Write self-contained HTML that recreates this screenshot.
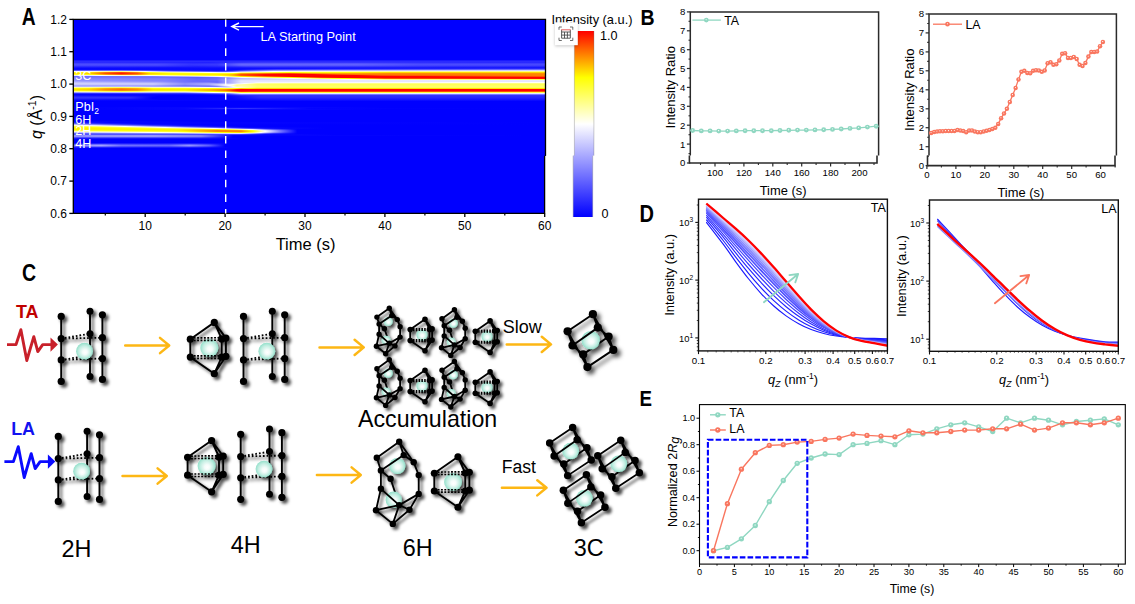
<!DOCTYPE html><html><head><meta charset="utf-8"><title>Figure</title><style>html,body{margin:0;padding:0;background:#fff}svg{display:block}text{font-family:"Liberation Sans",Arial,sans-serif}</style></head><body><svg width="1135" height="604" viewBox="0 0 1135 604"><defs><linearGradient id="h60"><stop offset="0.000" stop-color="#1919ff"/><stop offset="1.000" stop-color="#1919ff"/></linearGradient><linearGradient id="h61"><stop offset="0.000" stop-color="#2a2aff"/><stop offset="1.000" stop-color="#2a2aff"/></linearGradient><linearGradient id="h62"><stop offset="0.000" stop-color="#2b2bff"/><stop offset="0.195" stop-color="#2626ff"/><stop offset="0.288" stop-color="#2020ff"/><stop offset="0.339" stop-color="#3030ff"/><stop offset="0.381" stop-color="#3838ff"/><stop offset="0.627" stop-color="#3232ff"/><stop offset="0.864" stop-color="#2929ff"/><stop offset="1.000" stop-color="#2828ff"/></linearGradient><linearGradient id="h63"><stop offset="0.000" stop-color="#4141ff"/><stop offset="0.186" stop-color="#3b3bff"/><stop offset="0.254" stop-color="#2c2cff"/><stop offset="0.305" stop-color="#2f2fff"/><stop offset="0.356" stop-color="#5656ff"/><stop offset="0.602" stop-color="#5252ff"/><stop offset="0.737" stop-color="#4040ff"/><stop offset="1.000" stop-color="#3c3cff"/></linearGradient><linearGradient id="h64"><stop offset="0.000" stop-color="#4c4cff"/><stop offset="0.178" stop-color="#4949ff"/><stop offset="0.246" stop-color="#3434ff"/><stop offset="0.305" stop-color="#3838ff"/><stop offset="0.356" stop-color="#6666ff"/><stop offset="0.602" stop-color="#6060ff"/><stop offset="0.729" stop-color="#4c4cff"/><stop offset="1.000" stop-color="#4747ff"/></linearGradient><linearGradient id="h65"><stop offset="0.000" stop-color="#4444ff"/><stop offset="0.178" stop-color="#4242ff"/><stop offset="0.246" stop-color="#2e2eff"/><stop offset="0.305" stop-color="#3232ff"/><stop offset="0.356" stop-color="#5b5bff"/><stop offset="0.602" stop-color="#5656ff"/><stop offset="0.729" stop-color="#4444ff"/><stop offset="1.000" stop-color="#4040ff"/></linearGradient><linearGradient id="h66"><stop offset="0.000" stop-color="#2e2eff"/><stop offset="0.186" stop-color="#2b2bff"/><stop offset="0.263" stop-color="#2020ff"/><stop offset="0.314" stop-color="#2727ff"/><stop offset="0.364" stop-color="#3e3eff"/><stop offset="0.619" stop-color="#3838ff"/><stop offset="0.780" stop-color="#2e2eff"/><stop offset="1.000" stop-color="#2b2bff"/></linearGradient><linearGradient id="h67"><stop offset="0.000" stop-color="#1818ff"/><stop offset="0.220" stop-color="#1212ff"/><stop offset="0.322" stop-color="#1616ff"/><stop offset="0.390" stop-color="#2020ff"/><stop offset="1.000" stop-color="#1717ff"/></linearGradient><linearGradient id="h68"><stop offset="0.000" stop-color="#0909ff"/><stop offset="0.347" stop-color="#0c0cff"/><stop offset="1.000" stop-color="#2727ff"/></linearGradient><linearGradient id="h69"><stop offset="0.000" stop-color="#0b0bff"/><stop offset="0.347" stop-color="#0909ff"/><stop offset="0.432" stop-color="#3d3dff"/><stop offset="0.864" stop-color="#6363ff"/><stop offset="1.000" stop-color="#6b6bff"/></linearGradient><linearGradient id="h70"><stop offset="0.000" stop-color="#5757ff"/><stop offset="0.059" stop-color="#6363ff"/><stop offset="0.102" stop-color="#6d6dff"/><stop offset="0.212" stop-color="#1e1eff"/><stop offset="0.305" stop-color="#0b0bff"/><stop offset="0.331" stop-color="#1212ff"/><stop offset="0.364" stop-color="#4747ff"/><stop offset="0.424" stop-color="#9191ff"/><stop offset="0.492" stop-color="#a4a4ff"/><stop offset="0.746" stop-color="#c4c4ff"/><stop offset="1.000" stop-color="#d4d4ff"/></linearGradient><linearGradient id="h71"><stop offset="0.000" stop-color="#fffff7"/><stop offset="0.034" stop-color="#ffffe9"/><stop offset="0.068" stop-color="#ffff9a"/><stop offset="0.102" stop-color="#ffff72"/><stop offset="0.136" stop-color="#ffffc4"/><stop offset="0.144" stop-color="#ffffea"/><stop offset="0.153" stop-color="#f7f7ff"/><stop offset="0.203" stop-color="#a3a3ff"/><stop offset="0.305" stop-color="#4949ff"/><stop offset="0.322" stop-color="#4b4bff"/><stop offset="0.339" stop-color="#6767ff"/><stop offset="0.356" stop-color="#a4a4ff"/><stop offset="0.424" stop-color="#fdfdff"/><stop offset="0.458" stop-color="#ffffd8"/><stop offset="0.678" stop-color="#ffff90"/><stop offset="1.000" stop-color="#ffff78"/></linearGradient><linearGradient id="h72"><stop offset="0.000" stop-color="#ffff05"/><stop offset="0.034" stop-color="#fff000"/><stop offset="0.068" stop-color="#ff7b00"/><stop offset="0.102" stop-color="#ff4100"/><stop offset="0.136" stop-color="#ff8a00"/><stop offset="0.153" stop-color="#ffe200"/><stop offset="0.161" stop-color="#ffff0e"/><stop offset="0.203" stop-color="#ffff70"/><stop offset="0.271" stop-color="#ffffde"/><stop offset="0.288" stop-color="#fffffe"/><stop offset="0.314" stop-color="#ececff"/><stop offset="0.331" stop-color="#eeeeff"/><stop offset="0.339" stop-color="#f9f9ff"/><stop offset="0.347" stop-color="#ffffdb"/><stop offset="0.356" stop-color="#ffff98"/><stop offset="0.424" stop-color="#ffff2b"/><stop offset="0.458" stop-color="#ffff02"/><stop offset="0.500" stop-color="#ffff14"/><stop offset="0.585" stop-color="#fffa00"/><stop offset="0.669" stop-color="#ffdc00"/><stop offset="1.000" stop-color="#ffd800"/></linearGradient><linearGradient id="h73"><stop offset="0.000" stop-color="#ffe000"/><stop offset="0.034" stop-color="#ffcc00"/><stop offset="0.068" stop-color="#ff5100"/><stop offset="0.102" stop-color="#ff1400"/><stop offset="0.136" stop-color="#ff5100"/><stop offset="0.161" stop-color="#ffcc00"/><stop offset="0.203" stop-color="#fff800"/><stop offset="0.271" stop-color="#ffff07"/><stop offset="0.314" stop-color="#ffff1b"/><stop offset="0.331" stop-color="#ffff14"/><stop offset="0.339" stop-color="#ffff03"/><stop offset="0.347" stop-color="#ffdb00"/><stop offset="0.356" stop-color="#ffa300"/><stop offset="0.424" stop-color="#ff6100"/><stop offset="0.458" stop-color="#ff4400"/><stop offset="0.508" stop-color="#ff9100"/><stop offset="0.542" stop-color="#ffa500"/><stop offset="0.610" stop-color="#ff9c00"/><stop offset="0.669" stop-color="#ff8900"/><stop offset="1.000" stop-color="#ff9100"/></linearGradient><linearGradient id="h74"><stop offset="0.000" stop-color="#ffff20"/><stop offset="0.034" stop-color="#ffff0d"/><stop offset="0.042" stop-color="#fff000"/><stop offset="0.068" stop-color="#ff9c00"/><stop offset="0.102" stop-color="#ff6300"/><stop offset="0.136" stop-color="#ff8a00"/><stop offset="0.161" stop-color="#ffef00"/><stop offset="0.203" stop-color="#fffe00"/><stop offset="0.305" stop-color="#ffea00"/><stop offset="0.331" stop-color="#ffcb00"/><stop offset="0.339" stop-color="#ffb200"/><stop offset="0.347" stop-color="#ff8900"/><stop offset="0.356" stop-color="#ff5100"/><stop offset="0.407" stop-color="#ff0600"/><stop offset="0.441" stop-color="#ff0000"/><stop offset="0.508" stop-color="#ff0200"/><stop offset="0.559" stop-color="#ff5000"/><stop offset="0.602" stop-color="#ff7500"/><stop offset="0.653" stop-color="#ff7900"/><stop offset="1.000" stop-color="#ff8400"/></linearGradient><linearGradient id="h75"><stop offset="0.000" stop-color="#e3e3ff"/><stop offset="0.034" stop-color="#e8e8ff"/><stop offset="0.059" stop-color="#fffffb"/><stop offset="0.076" stop-color="#ffffe2"/><stop offset="0.110" stop-color="#ffffc6"/><stop offset="0.136" stop-color="#ffffc0"/><stop offset="0.161" stop-color="#ffffe5"/><stop offset="0.263" stop-color="#ffff48"/><stop offset="0.305" stop-color="#ffff1a"/><stop offset="0.314" stop-color="#ffff06"/><stop offset="0.331" stop-color="#ffdd00"/><stop offset="0.339" stop-color="#ffbe00"/><stop offset="0.347" stop-color="#ff9400"/><stop offset="0.356" stop-color="#ff5c00"/><stop offset="0.407" stop-color="#ff0500"/><stop offset="0.602" stop-color="#ff0400"/><stop offset="0.653" stop-color="#ff4e00"/><stop offset="0.695" stop-color="#ff5c00"/><stop offset="1.000" stop-color="#ff8300"/></linearGradient><linearGradient id="h76"><stop offset="0.000" stop-color="#6c6cff"/><stop offset="0.169" stop-color="#7a7aff"/><stop offset="0.246" stop-color="#b2b2ff"/><stop offset="0.305" stop-color="#f1f1ff"/><stop offset="0.314" stop-color="#ffffe9"/><stop offset="0.347" stop-color="#ffff2a"/><stop offset="0.356" stop-color="#ffed00"/><stop offset="0.424" stop-color="#ff5200"/><stop offset="0.466" stop-color="#ff0000"/><stop offset="0.746" stop-color="#ff0400"/><stop offset="1.000" stop-color="#ff5900"/></linearGradient><linearGradient id="h77"><stop offset="0.000" stop-color="#7777ff"/><stop offset="0.195" stop-color="#6f6fff"/><stop offset="0.263" stop-color="#5d5dff"/><stop offset="0.305" stop-color="#6d6dff"/><stop offset="0.331" stop-color="#acacff"/><stop offset="0.356" stop-color="#f8f8ff"/><stop offset="0.364" stop-color="#fffff4"/><stop offset="0.424" stop-color="#ffff4b"/><stop offset="0.458" stop-color="#ffff0a"/><stop offset="0.466" stop-color="#fff000"/><stop offset="0.525" stop-color="#ff3900"/><stop offset="0.568" stop-color="#ff0000"/><stop offset="1.000" stop-color="#ff0000"/></linearGradient><linearGradient id="h78"><stop offset="0.000" stop-color="#8484ff"/><stop offset="0.195" stop-color="#7b7bff"/><stop offset="0.263" stop-color="#6363ff"/><stop offset="0.305" stop-color="#6b6bff"/><stop offset="0.356" stop-color="#b8b8ff"/><stop offset="0.415" stop-color="#dcdcff"/><stop offset="0.466" stop-color="#fefeff"/><stop offset="0.492" stop-color="#ffffc5"/><stop offset="0.525" stop-color="#ffff59"/><stop offset="0.576" stop-color="#ffff00"/><stop offset="0.661" stop-color="#ff5500"/><stop offset="1.000" stop-color="#ff0700"/></linearGradient><linearGradient id="h79"><stop offset="0.000" stop-color="#8c8cff"/><stop offset="0.195" stop-color="#8181ff"/><stop offset="0.263" stop-color="#6868ff"/><stop offset="0.305" stop-color="#7070ff"/><stop offset="0.347" stop-color="#c1c1ff"/><stop offset="0.356" stop-color="#cdcdff"/><stop offset="0.500" stop-color="#dadaff"/><stop offset="0.585" stop-color="#fffffb"/><stop offset="0.644" stop-color="#ffffae"/><stop offset="0.661" stop-color="#ffff92"/><stop offset="1.000" stop-color="#ffff55"/></linearGradient><linearGradient id="h80"><stop offset="0.000" stop-color="#9494ff"/><stop offset="0.195" stop-color="#8282ff"/><stop offset="0.263" stop-color="#6868ff"/><stop offset="0.305" stop-color="#6f6fff"/><stop offset="0.356" stop-color="#dfdfff"/><stop offset="0.653" stop-color="#e7e7ff"/><stop offset="1.000" stop-color="#e9e9ff"/></linearGradient><linearGradient id="h81"><stop offset="0.000" stop-color="#a7a7ff"/><stop offset="0.186" stop-color="#8d8dff"/><stop offset="0.254" stop-color="#6b6bff"/><stop offset="0.305" stop-color="#6868ff"/><stop offset="0.356" stop-color="#e6e6ff"/><stop offset="1.000" stop-color="#e6e6ff"/></linearGradient><linearGradient id="h82"><stop offset="0.000" stop-color="#c1c1ff"/><stop offset="0.178" stop-color="#aaaaff"/><stop offset="0.237" stop-color="#7c7cff"/><stop offset="0.288" stop-color="#8181ff"/><stop offset="0.305" stop-color="#6e6eff"/><stop offset="0.356" stop-color="#e3e3ff"/><stop offset="0.381" stop-color="#e8e8ff"/><stop offset="0.390" stop-color="#f4f4ff"/><stop offset="0.932" stop-color="#fffff8"/><stop offset="1.000" stop-color="#fffff5"/></linearGradient><linearGradient id="h83"><stop offset="0.000" stop-color="#d1d1ff"/><stop offset="0.169" stop-color="#c8c8ff"/><stop offset="0.237" stop-color="#8c8cff"/><stop offset="0.297" stop-color="#a8a8ff"/><stop offset="0.305" stop-color="#a4a4ff"/><stop offset="0.339" stop-color="#cacaff"/><stop offset="0.347" stop-color="#e4e4ff"/><stop offset="0.364" stop-color="#fcfcff"/><stop offset="0.381" stop-color="#ffffbe"/><stop offset="0.390" stop-color="#ffff9b"/><stop offset="0.466" stop-color="#ffff8a"/><stop offset="1.000" stop-color="#ffff7e"/></linearGradient><linearGradient id="h84"><stop offset="0.000" stop-color="#c8c8ff"/><stop offset="0.169" stop-color="#c6c6ff"/><stop offset="0.237" stop-color="#8b8bff"/><stop offset="0.288" stop-color="#a9a9ff"/><stop offset="0.322" stop-color="#ededff"/><stop offset="0.331" stop-color="#efefff"/><stop offset="0.339" stop-color="#fffffe"/><stop offset="0.347" stop-color="#ffffb3"/><stop offset="0.356" stop-color="#ffffb2"/><stop offset="0.364" stop-color="#ffff9b"/><stop offset="0.381" stop-color="#ffff7c"/><stop offset="0.390" stop-color="#ffff68"/><stop offset="0.458" stop-color="#ffff55"/><stop offset="1.000" stop-color="#ffff58"/></linearGradient><linearGradient id="h85"><stop offset="0.000" stop-color="#a8a8ff"/><stop offset="0.169" stop-color="#a6a6ff"/><stop offset="0.237" stop-color="#7676ff"/><stop offset="0.288" stop-color="#8787ff"/><stop offset="0.305" stop-color="#b5b5ff"/><stop offset="0.322" stop-color="#f2f2ff"/><stop offset="0.331" stop-color="#fefeff"/><stop offset="0.339" stop-color="#ffffd1"/><stop offset="0.347" stop-color="#ffff8f"/><stop offset="0.356" stop-color="#ffffa6"/><stop offset="0.373" stop-color="#ffff94"/><stop offset="0.390" stop-color="#ffff70"/><stop offset="0.458" stop-color="#ffff5d"/><stop offset="1.000" stop-color="#ffff63"/></linearGradient><linearGradient id="h86"><stop offset="0.000" stop-color="#b3b3ff"/><stop offset="0.119" stop-color="#bbbbff"/><stop offset="0.254" stop-color="#8d8dff"/><stop offset="0.288" stop-color="#7777ff"/><stop offset="0.305" stop-color="#7f7fff"/><stop offset="0.331" stop-color="#dedeff"/><stop offset="0.339" stop-color="#fffff8"/><stop offset="0.347" stop-color="#ffffb0"/><stop offset="0.356" stop-color="#ffffbc"/><stop offset="0.364" stop-color="#ffffa7"/><stop offset="0.381" stop-color="#ffff8b"/><stop offset="0.390" stop-color="#ffff76"/><stop offset="0.458" stop-color="#ffff63"/><stop offset="1.000" stop-color="#ffff6a"/></linearGradient><linearGradient id="h87"><stop offset="0.000" stop-color="#ffff9c"/><stop offset="0.034" stop-color="#ffff90"/><stop offset="0.076" stop-color="#ffff62"/><stop offset="0.102" stop-color="#ffff54"/><stop offset="0.136" stop-color="#ffff6e"/><stop offset="0.169" stop-color="#ffffae"/><stop offset="0.237" stop-color="#ffffbf"/><stop offset="0.288" stop-color="#fefeff"/><stop offset="0.305" stop-color="#f4f4ff"/><stop offset="0.322" stop-color="#dfdfff"/><stop offset="0.331" stop-color="#e3e3ff"/><stop offset="0.339" stop-color="#f2f2ff"/><stop offset="0.347" stop-color="#ffffe7"/><stop offset="0.390" stop-color="#ffff65"/><stop offset="0.466" stop-color="#ffff57"/><stop offset="1.000" stop-color="#ffff5c"/></linearGradient><linearGradient id="h88"><stop offset="0.000" stop-color="#fffb00"/><stop offset="0.034" stop-color="#ffe800"/><stop offset="0.068" stop-color="#ffae00"/><stop offset="0.102" stop-color="#ff9200"/><stop offset="0.136" stop-color="#ffb100"/><stop offset="0.169" stop-color="#ffff02"/><stop offset="0.246" stop-color="#ffff0c"/><stop offset="0.305" stop-color="#ffff04"/><stop offset="0.322" stop-color="#ffff23"/><stop offset="0.339" stop-color="#ffff1c"/><stop offset="0.347" stop-color="#fff700"/><stop offset="0.356" stop-color="#ffd400"/><stop offset="0.373" stop-color="#ffea00"/><stop offset="0.390" stop-color="#ffd700"/><stop offset="1.000" stop-color="#ffe800"/></linearGradient><linearGradient id="h89"><stop offset="0.000" stop-color="#ffe000"/><stop offset="0.034" stop-color="#ffcc00"/><stop offset="0.068" stop-color="#ff8f00"/><stop offset="0.102" stop-color="#ff7000"/><stop offset="0.136" stop-color="#ff8f00"/><stop offset="0.169" stop-color="#ffe000"/><stop offset="0.237" stop-color="#ffeb00"/><stop offset="0.288" stop-color="#ffba00"/><stop offset="0.322" stop-color="#ff8900"/><stop offset="0.339" stop-color="#ff4a00"/><stop offset="0.347" stop-color="#ff1600"/><stop offset="0.356" stop-color="#ff0000"/><stop offset="1.000" stop-color="#ff0400"/></linearGradient><linearGradient id="h90"><stop offset="0.000" stop-color="#fffb00"/><stop offset="0.034" stop-color="#ffe600"/><stop offset="0.068" stop-color="#ffaa00"/><stop offset="0.102" stop-color="#ff8b00"/><stop offset="0.136" stop-color="#ffa700"/><stop offset="0.169" stop-color="#fff600"/><stop offset="0.237" stop-color="#fffe00"/><stop offset="0.297" stop-color="#ffac00"/><stop offset="0.322" stop-color="#ff7b00"/><stop offset="0.331" stop-color="#ff5500"/><stop offset="0.339" stop-color="#ff2500"/><stop offset="0.347" stop-color="#ff0000"/><stop offset="1.000" stop-color="#ff0000"/></linearGradient><linearGradient id="h91"><stop offset="0.000" stop-color="#ffff9f"/><stop offset="0.034" stop-color="#ffff8c"/><stop offset="0.076" stop-color="#ffff52"/><stop offset="0.102" stop-color="#ffff3d"/><stop offset="0.136" stop-color="#ffff51"/><stop offset="0.169" stop-color="#ffff8e"/><stop offset="0.237" stop-color="#ffff8f"/><stop offset="0.297" stop-color="#ffff04"/><stop offset="0.322" stop-color="#ffd400"/><stop offset="0.331" stop-color="#ffb200"/><stop offset="0.356" stop-color="#ff2400"/><stop offset="0.373" stop-color="#ff3500"/><stop offset="1.000" stop-color="#ff5100"/></linearGradient><linearGradient id="h92"><stop offset="0.000" stop-color="#9f9fff"/><stop offset="0.110" stop-color="#bbbbff"/><stop offset="0.186" stop-color="#aaaaff"/><stop offset="0.237" stop-color="#ababff"/><stop offset="0.297" stop-color="#fcfcff"/><stop offset="0.305" stop-color="#ffffea"/><stop offset="0.322" stop-color="#ffffdc"/><stop offset="0.331" stop-color="#ffffc0"/><stop offset="0.347" stop-color="#ffff5f"/><stop offset="0.356" stop-color="#ffff1f"/><stop offset="0.373" stop-color="#ffff2f"/><stop offset="1.000" stop-color="#ffff44"/></linearGradient><linearGradient id="h93"><stop offset="0.000" stop-color="#2d2dff"/><stop offset="0.144" stop-color="#3636ff"/><stop offset="0.237" stop-color="#3434ff"/><stop offset="0.322" stop-color="#7777ff"/><stop offset="0.331" stop-color="#8888ff"/><stop offset="0.356" stop-color="#eaeaff"/><stop offset="1.000" stop-color="#e8e8ff"/></linearGradient><linearGradient id="h94"><stop offset="0.000" stop-color="#0606ff"/><stop offset="0.271" stop-color="#0d0dff"/><stop offset="0.322" stop-color="#2020ff"/><stop offset="0.356" stop-color="#7575ff"/><stop offset="1.000" stop-color="#7878ff"/></linearGradient><linearGradient id="h95"><stop offset="0.000" stop-color="#1111ff"/><stop offset="0.136" stop-color="#0a0aff"/><stop offset="0.203" stop-color="#0000ff"/><stop offset="0.314" stop-color="#0202ff"/><stop offset="0.356" stop-color="#2929ff"/><stop offset="0.415" stop-color="#3333ff"/><stop offset="1.000" stop-color="#3131ff"/></linearGradient><linearGradient id="h96"><stop offset="0.000" stop-color="#2525ff"/><stop offset="0.127" stop-color="#1c1cff"/><stop offset="0.178" stop-color="#0000ff"/><stop offset="0.322" stop-color="#0202ff"/><stop offset="0.398" stop-color="#2e2eff"/><stop offset="1.000" stop-color="#2929ff"/></linearGradient><linearGradient id="h97"><stop offset="0.000" stop-color="#3333ff"/><stop offset="0.119" stop-color="#2e2eff"/><stop offset="0.169" stop-color="#0000ff"/><stop offset="0.331" stop-color="#0505ff"/><stop offset="0.398" stop-color="#2a2aff"/><stop offset="1.000" stop-color="#2525ff"/></linearGradient><linearGradient id="h98"><stop offset="0.000" stop-color="#2929ff"/><stop offset="0.119" stop-color="#2525ff"/><stop offset="0.169" stop-color="#0000ff"/><stop offset="0.331" stop-color="#0404ff"/><stop offset="0.398" stop-color="#2020ff"/><stop offset="1.000" stop-color="#1d1dff"/></linearGradient><linearGradient id="h99"><stop offset="0.000" stop-color="#1414ff"/><stop offset="0.127" stop-color="#0f0fff"/><stop offset="0.186" stop-color="#0000ff"/><stop offset="0.339" stop-color="#0505ff"/><stop offset="0.407" stop-color="#1515ff"/><stop offset="1.000" stop-color="#1313ff"/></linearGradient><linearGradient id="h100"><stop offset="0.000" stop-color="#0606ff"/><stop offset="0.339" stop-color="#0303ff"/><stop offset="0.458" stop-color="#0b0bff"/><stop offset="1.000" stop-color="#0a0aff"/></linearGradient><linearGradient id="h107"><stop offset="0.000" stop-color="#0000ff"/><stop offset="0.297" stop-color="#0808ff"/><stop offset="0.407" stop-color="#0909ff"/><stop offset="0.661" stop-color="#0000ff"/><stop offset="1.000" stop-color="#0000ff"/></linearGradient><linearGradient id="h108"><stop offset="0.000" stop-color="#0000ff"/><stop offset="0.237" stop-color="#0707ff"/><stop offset="0.356" stop-color="#3333ff"/><stop offset="0.424" stop-color="#1b1bff"/><stop offset="0.500" stop-color="#0303ff"/><stop offset="1.000" stop-color="#0000ff"/></linearGradient><linearGradient id="h109"><stop offset="0.000" stop-color="#0000ff"/><stop offset="0.297" stop-color="#0808ff"/><stop offset="0.407" stop-color="#0909ff"/><stop offset="0.661" stop-color="#0000ff"/><stop offset="1.000" stop-color="#0000ff"/></linearGradient><linearGradient id="h121"><stop offset="0.000" stop-color="#0707ff"/><stop offset="0.314" stop-color="#0000ff"/><stop offset="1.000" stop-color="#0000ff"/></linearGradient><linearGradient id="h122"><stop offset="0.000" stop-color="#2020ff"/><stop offset="0.076" stop-color="#0505ff"/><stop offset="1.000" stop-color="#0000ff"/></linearGradient><linearGradient id="h123"><stop offset="0.000" stop-color="#5b5bff"/><stop offset="0.068" stop-color="#1f1fff"/><stop offset="0.144" stop-color="#0404ff"/><stop offset="1.000" stop-color="#0000ff"/></linearGradient><linearGradient id="h124"><stop offset="0.000" stop-color="#babaff"/><stop offset="0.102" stop-color="#3c3cff"/><stop offset="0.161" stop-color="#1111ff"/><stop offset="0.246" stop-color="#0101ff"/><stop offset="1.000" stop-color="#0000ff"/></linearGradient><linearGradient id="h125"><stop offset="0.000" stop-color="#ffffc0"/><stop offset="0.025" stop-color="#fffff9"/><stop offset="0.059" stop-color="#d7d7ff"/><stop offset="0.169" stop-color="#3f3fff"/><stop offset="0.229" stop-color="#0f0fff"/><stop offset="0.314" stop-color="#0000ff"/><stop offset="1.000" stop-color="#0000ff"/></linearGradient><linearGradient id="h126"><stop offset="0.000" stop-color="#ffff32"/><stop offset="0.051" stop-color="#ffff78"/><stop offset="0.093" stop-color="#ffffce"/><stop offset="0.110" stop-color="#fffff9"/><stop offset="0.144" stop-color="#d2d2ff"/><stop offset="0.237" stop-color="#4444ff"/><stop offset="0.288" stop-color="#1515ff"/><stop offset="0.356" stop-color="#0000ff"/><stop offset="1.000" stop-color="#0000ff"/></linearGradient><linearGradient id="h127"><stop offset="0.000" stop-color="#fff400"/><stop offset="0.042" stop-color="#ffff06"/><stop offset="0.102" stop-color="#ffff3a"/><stop offset="0.144" stop-color="#ffff7c"/><stop offset="0.186" stop-color="#ffffe0"/><stop offset="0.195" stop-color="#fffff8"/><stop offset="0.220" stop-color="#dadaff"/><stop offset="0.339" stop-color="#1f1fff"/><stop offset="0.373" stop-color="#0707ff"/><stop offset="0.534" stop-color="#0000ff"/><stop offset="1.000" stop-color="#0000ff"/></linearGradient><linearGradient id="h128"><stop offset="0.000" stop-color="#ffeb00"/><stop offset="0.119" stop-color="#fffc00"/><stop offset="0.161" stop-color="#ffff14"/><stop offset="0.203" stop-color="#ffff43"/><stop offset="0.229" stop-color="#ffff67"/><stop offset="0.263" stop-color="#ffff9a"/><stop offset="0.288" stop-color="#ffffda"/><stop offset="0.297" stop-color="#fffff5"/><stop offset="0.305" stop-color="#f5f5ff"/><stop offset="0.339" stop-color="#9f9fff"/><stop offset="0.364" stop-color="#6060ff"/><stop offset="0.407" stop-color="#1b1bff"/><stop offset="0.441" stop-color="#0808ff"/><stop offset="0.534" stop-color="#0000ff"/><stop offset="1.000" stop-color="#0000ff"/></linearGradient><linearGradient id="h129"><stop offset="0.000" stop-color="#fff400"/><stop offset="0.178" stop-color="#fff400"/><stop offset="0.220" stop-color="#fffd00"/><stop offset="0.271" stop-color="#ffdf00"/><stop offset="0.305" stop-color="#ffe700"/><stop offset="0.314" stop-color="#fffa00"/><stop offset="0.322" stop-color="#ffff10"/><stop offset="0.347" stop-color="#ffff6d"/><stop offset="0.373" stop-color="#ffffee"/><stop offset="0.381" stop-color="#f1f1ff"/><stop offset="0.407" stop-color="#8d8dff"/><stop offset="0.424" stop-color="#5a5aff"/><stop offset="0.466" stop-color="#0e0eff"/><stop offset="0.475" stop-color="#0000ff"/><stop offset="1.000" stop-color="#0000ff"/></linearGradient><linearGradient id="h130"><stop offset="0.000" stop-color="#ffff32"/><stop offset="0.127" stop-color="#ffff00"/><stop offset="0.220" stop-color="#fff500"/><stop offset="0.305" stop-color="#ff8700"/><stop offset="0.347" stop-color="#ff9900"/><stop offset="0.356" stop-color="#ffa100"/><stop offset="0.373" stop-color="#fff400"/><stop offset="0.381" stop-color="#ffff1e"/><stop offset="0.398" stop-color="#ffffc6"/><stop offset="0.407" stop-color="#f2f2ff"/><stop offset="0.441" stop-color="#6969ff"/><stop offset="0.475" stop-color="#0000ff"/><stop offset="1.000" stop-color="#0000ff"/></linearGradient><linearGradient id="h131"><stop offset="0.000" stop-color="#ffffc0"/><stop offset="0.203" stop-color="#ffff2a"/><stop offset="0.220" stop-color="#ffff21"/><stop offset="0.237" stop-color="#ffff04"/><stop offset="0.305" stop-color="#ff8d00"/><stop offset="0.356" stop-color="#ff8500"/><stop offset="0.381" stop-color="#ffff00"/><stop offset="0.407" stop-color="#ffffff"/><stop offset="0.441" stop-color="#7070ff"/><stop offset="0.475" stop-color="#0000ff"/><stop offset="1.000" stop-color="#0000ff"/></linearGradient><linearGradient id="h132"><stop offset="0.000" stop-color="#babaff"/><stop offset="0.169" stop-color="#fefeff"/><stop offset="0.220" stop-color="#ffffce"/><stop offset="0.280" stop-color="#ffff51"/><stop offset="0.305" stop-color="#ffff14"/><stop offset="0.322" stop-color="#ffff00"/><stop offset="0.356" stop-color="#ffdf00"/><stop offset="0.364" stop-color="#ffff0c"/><stop offset="0.381" stop-color="#ffff62"/><stop offset="0.398" stop-color="#fdfdff"/><stop offset="0.424" stop-color="#9595ff"/><stop offset="0.449" stop-color="#4444ff"/><stop offset="0.475" stop-color="#0000ff"/><stop offset="1.000" stop-color="#0000ff"/></linearGradient><linearGradient id="h133"><stop offset="0.000" stop-color="#5c5cff"/><stop offset="0.212" stop-color="#8f8fff"/><stop offset="0.297" stop-color="#c9c9ff"/><stop offset="0.339" stop-color="#dfdfff"/><stop offset="0.356" stop-color="#e4e4ff"/><stop offset="0.381" stop-color="#a5a5ff"/><stop offset="0.407" stop-color="#5656ff"/><stop offset="0.424" stop-color="#3232ff"/><stop offset="0.475" stop-color="#0000ff"/><stop offset="1.000" stop-color="#0000ff"/></linearGradient><linearGradient id="h134"><stop offset="0.000" stop-color="#5050ff"/><stop offset="0.195" stop-color="#5252ff"/><stop offset="0.280" stop-color="#4848ff"/><stop offset="0.356" stop-color="#3939ff"/><stop offset="0.407" stop-color="#0909ff"/><stop offset="0.551" stop-color="#0000ff"/><stop offset="1.000" stop-color="#0000ff"/></linearGradient><linearGradient id="h135"><stop offset="0.000" stop-color="#8e8eff"/><stop offset="0.169" stop-color="#9494ff"/><stop offset="0.271" stop-color="#7b7bff"/><stop offset="0.339" stop-color="#0505ff"/><stop offset="1.000" stop-color="#0000ff"/></linearGradient><linearGradient id="h136"><stop offset="0.000" stop-color="#8e8eff"/><stop offset="0.169" stop-color="#9494ff"/><stop offset="0.271" stop-color="#7b7bff"/><stop offset="0.339" stop-color="#0000ff"/><stop offset="1.000" stop-color="#0000ff"/></linearGradient><linearGradient id="h137"><stop offset="0.000" stop-color="#4f4fff"/><stop offset="0.186" stop-color="#4f4fff"/><stop offset="0.271" stop-color="#4444ff"/><stop offset="0.339" stop-color="#0000ff"/><stop offset="1.000" stop-color="#0000ff"/></linearGradient><linearGradient id="h138"><stop offset="0.000" stop-color="#1818ff"/><stop offset="0.280" stop-color="#1212ff"/><stop offset="0.356" stop-color="#0000ff"/><stop offset="1.000" stop-color="#0000ff"/></linearGradient><linearGradient id="h143"><stop offset="0.000" stop-color="#1919ff"/><stop offset="0.068" stop-color="#2222ff"/><stop offset="0.153" stop-color="#1818ff"/><stop offset="0.229" stop-color="#1d1dff"/><stop offset="0.263" stop-color="#1c1cff"/><stop offset="0.331" stop-color="#0000ff"/><stop offset="1.000" stop-color="#0000ff"/></linearGradient><linearGradient id="h144"><stop offset="0.000" stop-color="#4d4dff"/><stop offset="0.042" stop-color="#6b6bff"/><stop offset="0.059" stop-color="#7070ff"/><stop offset="0.102" stop-color="#4d4dff"/><stop offset="0.203" stop-color="#4646ff"/><stop offset="0.246" stop-color="#6565ff"/><stop offset="0.288" stop-color="#3f3fff"/><stop offset="0.322" stop-color="#0000ff"/><stop offset="1.000" stop-color="#0000ff"/></linearGradient><linearGradient id="h145"><stop offset="0.000" stop-color="#7070ff"/><stop offset="0.034" stop-color="#9999ff"/><stop offset="0.059" stop-color="#a3a3ff"/><stop offset="0.102" stop-color="#7070ff"/><stop offset="0.203" stop-color="#6666ff"/><stop offset="0.246" stop-color="#9494ff"/><stop offset="0.288" stop-color="#5c5cff"/><stop offset="0.322" stop-color="#0000ff"/><stop offset="1.000" stop-color="#0000ff"/></linearGradient><linearGradient id="h146"><stop offset="0.000" stop-color="#4d4dff"/><stop offset="0.042" stop-color="#6b6bff"/><stop offset="0.059" stop-color="#7070ff"/><stop offset="0.102" stop-color="#4d4dff"/><stop offset="0.203" stop-color="#4646ff"/><stop offset="0.246" stop-color="#6565ff"/><stop offset="0.288" stop-color="#3f3fff"/><stop offset="0.322" stop-color="#0000ff"/><stop offset="1.000" stop-color="#0000ff"/></linearGradient><linearGradient id="h147"><stop offset="0.000" stop-color="#1919ff"/><stop offset="0.068" stop-color="#2222ff"/><stop offset="0.153" stop-color="#1818ff"/><stop offset="0.229" stop-color="#1d1dff"/><stop offset="0.263" stop-color="#1c1cff"/><stop offset="0.331" stop-color="#0000ff"/><stop offset="1.000" stop-color="#0000ff"/></linearGradient><linearGradient id="cb" x1="0" x2="0" y1="0" y2="1"><stop offset="0" stop-color="#ff0000"/><stop offset="0.25" stop-color="#ffff00"/><stop offset="0.5" stop-color="#ffffff"/><stop offset="1" stop-color="#0000ff"/></linearGradient><clipPath id="cbc"><path d="M574.4 31H594V155.6H592.7V217H573.2V155.6H574.4Z"/></clipPath><filter id="sh" x="-30%" y="-30%" width="160%" height="160%"><feGaussianBlur stdDeviation="1.5"/></filter><radialGradient id="mkm" cx="0.5" cy="0.5" r="0.5" fx="0.45" fy="0.38"><stop offset="0" stop-color="#fff"/><stop offset="0.16" stop-color="#c9ece1"/><stop offset="0.42" stop-color="#8fd7c1"/><stop offset="1" stop-color="#8fd7c1"/></radialGradient><radialGradient id="mks" cx="0.5" cy="0.5" r="0.5" fx="0.45" fy="0.38"><stop offset="0" stop-color="#fff"/><stop offset="0.16" stop-color="#fdbdb2"/><stop offset="0.42" stop-color="#f9765f"/><stop offset="1" stop-color="#f9765f"/></radialGradient><clipPath id="dl"><rect x="698.5" y="199.2" width="189.49999999999997" height="151.7"/></clipPath><clipPath id="dr"><rect x="929.5" y="200.0" width="189.39999999999995" height="151.3"/></clipPath><filter id="ds" x="-30%" y="-30%" width="170%" height="170%"><feDropShadow dx="2.7" dy="2.7" stdDeviation="1.7" flood-color="#000" flood-opacity="0.7"/></filter><filter id="ds2" x="-30%" y="-30%" width="170%" height="170%"><feDropShadow dx="3.3" dy="3.3" stdDeviation="2" flood-color="#000" flood-opacity="0.7"/></filter><radialGradient id="sp" cx="0.5" cy="0.5" r="0.5" fx="0.54" fy="0.58"><stop offset="0" stop-color="#ffffff"/><stop offset="0.28" stop-color="#f4fcfa"/><stop offset="0.7" stop-color="#c3eee2"/><stop offset="1" stop-color="#93dfca"/></radialGradient><g id="u2h"><path d="M28.8 -5.2L28.8 60" stroke="#000" stroke-width="1.9" fill="none"/><path d="M0 22.2L28.8 17.3M0 22.2L41.2 21.3M0 43.5L28.8 39.1M0 43.5L41.2 42.1" stroke="#000" stroke-width="1.8" stroke-dasharray="1.7 2" fill="none"/><circle cx="28.8" cy="-5.2" r="3.5"/><circle cx="28.8" cy="17.3" r="3.5"/><circle cx="28.8" cy="60" r="3.5"/><circle cx="23.3" cy="34.8" r="8.4" fill="url(#sp)"/><path d="M0 0L0 65M41.2 -1.6L41.2 63" stroke="#000" stroke-width="1.9" fill="none"/><circle cx="0" cy="0" r="3.6"/><circle cx="0" cy="22.2" r="3.6"/><circle cx="0" cy="43.5" r="3.6"/><circle cx="0" cy="65" r="3.6"/><circle cx="41.2" cy="-1.6" r="3.6"/><circle cx="41.2" cy="21.3" r="3.6"/><circle cx="41.2" cy="42.1" r="3.6"/><circle cx="41.2" cy="63" r="3.6"/></g><g id="pen"><circle cx="19" cy="8.8" r="9" fill="url(#sp)"/><path d="M0 0L0 17.9M0 0L24 -16.8M0 17.9L24 34.5M24 -16.8L31.4 -0.3M24 -16.8L35.6 -1.1M24 34.5L31.4 17.9M24 34.5L35.6 17.1M31.4 -0.3L31.4 17.9M35.6 -1.1L35.6 17.1" stroke="#000" stroke-width="1.9" fill="none"/><path d="M0 -1.2L31 -1.5M0 1.3L31 1M0 16.7L31 16.7M0 19.2L31 19.2" stroke="#000" stroke-width="1.7" stroke-dasharray="1.9 1.5" fill="none"/><circle cx="0" cy="0" r="3.6"/><circle cx="0" cy="17.9" r="3.6"/><circle cx="24" cy="-16.8" r="3.6"/><circle cx="24" cy="34.5" r="3.6"/><circle cx="31.4" cy="-0.3" r="3.6"/><circle cx="35.6" cy="-1.1" r="3.6"/><circle cx="31.4" cy="17.9" r="3.6"/><circle cx="35.6" cy="17.1" r="3.6"/></g><g id="pens"><circle cx="11.7" cy="5.4" r="5.5" fill="url(#sp)"/><path d="M0 0L0 11M0 0L14.8 -10.3M0 11L14.8 21.2M14.8 -10.3L19.3 -0.2M14.8 -10.3L21.9 -0.7M14.8 21.2L19.3 11M14.8 21.2L21.9 10.5M19.3 -0.2L19.3 11M21.9 -0.7L21.9 10.5" stroke="#000" stroke-width="1.8" fill="none"/><path d="M0 -0.7L19.1 -0.9M0 0.8L19.1 0.6M0 10.3L19.1 10.3M0 11.8L19.1 11.8" stroke="#000" stroke-width="1.6" stroke-dasharray="1.5 1.3" fill="none"/><circle cx="0" cy="0" r="2.8"/><circle cx="0" cy="11" r="2.8"/><circle cx="14.8" cy="-10.3" r="2.8"/><circle cx="14.8" cy="21.2" r="2.8"/><circle cx="19.3" cy="-0.2" r="2.8"/><circle cx="21.9" cy="-0.7" r="2.8"/><circle cx="19.3" cy="11" r="2.8"/><circle cx="21.9" cy="10.5" r="2.8"/></g><g id="s6h"><path d="M0 0L-22.4 16M0 0L4.5 13.3M0 0L14.5 20.5M-22.4 16L-18.3 28.7M4.5 13.3L14.5 20.5M14.5 20.5L19.5 33.3M-18.3 28.7L-8.6 36.9M19.5 33.3L19.5 52.1M-18.3 28.7L-18.3 47M-18.3 47L-23.2 68.4M-23.2 68.4L-6.4 82.1M-6.4 82.1L0 63.3M-6.4 82.1L10.3 67.9M0 63.3L10.3 67.9M19.5 52.1L10.3 67.9M19.5 52.1L0 63.3M-8.6 36.9L0 63.3" stroke="#000" stroke-width="1.8" fill="none"/><circle cx="-1.9" cy="24.2" r="8.1" fill="url(#sp)"/><circle cx="-5.5" cy="57.9" r="8.1" fill="url(#sp)"/><path d="M-18.3 28.7L4.5 13.3M-23.2 68.4L0 63.3M-18.3 47L0 63.3" stroke="#000" stroke-width="1.8" fill="none"/><circle cx="0" cy="0" r="3.2"/><circle cx="-22.4" cy="16" r="3.2"/><circle cx="4.5" cy="13.3" r="3.2"/><circle cx="14.5" cy="20.5" r="3.2"/><circle cx="-18.3" cy="28.7" r="3.2"/><circle cx="-8.6" cy="36.9" r="3.2"/><circle cx="19.5" cy="33.3" r="3.2"/><circle cx="-18.3" cy="47" r="3.2"/><circle cx="19.5" cy="52.1" r="3.2"/><circle cx="-23.2" cy="68.4" r="3.2"/><circle cx="0" cy="63.3" r="3.2"/><circle cx="10.3" cy="67.9" r="3.2"/><circle cx="-6.4" cy="82.1" r="3.2"/></g><g id="s6hs"><path d="M0 0L-12.4 8.9M0 0L2.5 7.4M0 0L8 11.4M-12.4 8.9L-10.2 15.9M2.5 7.4L8 11.4M8 11.4L10.8 18.5M-10.2 15.9L-4.8 20.5M10.8 18.5L10.8 28.9M-10.2 15.9L-10.2 26.1M-10.2 26.1L-12.9 38M-12.9 38L-3.6 45.6M-3.6 45.6L0 35.1M-3.6 45.6L5.7 37.7M0 35.1L5.7 37.7M10.8 28.9L5.7 37.7M10.8 28.9L0 35.1M-4.8 20.5L0 35.1" stroke="#000" stroke-width="1.8" fill="none"/><circle cx="-1.1" cy="13.4" r="4.5" fill="url(#sp)"/><circle cx="-3.1" cy="32.1" r="4.5" fill="url(#sp)"/><path d="M-10.2 15.9L2.5 7.4M-12.9 38L0 35.1M-10.2 26.1L0 35.1" stroke="#000" stroke-width="1.8" fill="none"/><circle cx="0" cy="0" r="2.7"/><circle cx="-12.4" cy="8.9" r="2.7"/><circle cx="2.5" cy="7.4" r="2.7"/><circle cx="8" cy="11.4" r="2.7"/><circle cx="-10.2" cy="15.9" r="2.7"/><circle cx="-4.8" cy="20.5" r="2.7"/><circle cx="10.8" cy="18.5" r="2.7"/><circle cx="-10.2" cy="26.1" r="2.7"/><circle cx="10.8" cy="28.9" r="2.7"/><circle cx="-12.9" cy="38" r="2.7"/><circle cx="0" cy="35.1" r="2.7"/><circle cx="5.7" cy="37.7" r="2.7"/><circle cx="-3.6" cy="45.6" r="2.7"/></g><g id="s3c"><path d="M2.5 -26.5L-22.8 -9.4M22.9 9.2L-3 26.4M2.5 -26.5L7.4 -13.1M7.4 -13.1L18.2 -4.2M18.2 -4.2L22.9 9.2M-22.8 -9.4L-17.9 4.8M-17.9 4.8L-7.2 13.7M-7.2 13.7L-3 26.4M2.5 -26.5L22.9 9.2M-22.8 -9.4L-3 26.4M18.2 -4.2L-7.2 13.7" stroke="#000" stroke-width="1.9" fill="none"/><circle cx="0.3" cy="-0.5" r="9.2" fill="url(#sp)"/><path d="M7.4 -13.1L-17.9 4.8" stroke="#000" stroke-width="1.9" fill="none"/><circle cx="2.5" cy="-26.5" r="4.1"/><circle cx="-22.8" cy="-9.4" r="4.1"/><circle cx="7.4" cy="-13.1" r="4.1"/><circle cx="-17.9" cy="4.8" r="4.1"/><circle cx="18.2" cy="-4.2" r="4.1"/><circle cx="-7.2" cy="13.7" r="4.1"/><circle cx="22.9" cy="9.2" r="4.1"/><circle cx="-3" cy="26.4" r="4.1"/></g></defs><g shape-rendering="crispEdges"><path d="M73.3 19.4H545.5V155.7H544.6V213.4H73.3Z" fill="#0000ff"/><rect x="73.3" y="60" width="471.4" height="1.05" fill="url(#h60)"/><rect x="73.3" y="61" width="471.4" height="1.05" fill="url(#h61)"/><rect x="73.3" y="62" width="471.4" height="1.05" fill="url(#h62)"/><rect x="73.3" y="63" width="471.4" height="1.05" fill="url(#h63)"/><rect x="73.3" y="64" width="471.4" height="1.05" fill="url(#h64)"/><rect x="73.3" y="65" width="471.4" height="1.05" fill="url(#h65)"/><rect x="73.3" y="66" width="471.4" height="1.05" fill="url(#h66)"/><rect x="73.3" y="67" width="471.4" height="1.05" fill="url(#h67)"/><rect x="73.3" y="68" width="471.4" height="1.05" fill="url(#h68)"/><rect x="73.3" y="69" width="471.4" height="1.05" fill="url(#h69)"/><rect x="73.3" y="70" width="471.4" height="1.05" fill="url(#h70)"/><rect x="73.3" y="71" width="471.4" height="1.05" fill="url(#h71)"/><rect x="73.3" y="72" width="471.4" height="1.05" fill="url(#h72)"/><rect x="73.3" y="73" width="471.4" height="1.05" fill="url(#h73)"/><rect x="73.3" y="74" width="471.4" height="1.05" fill="url(#h74)"/><rect x="73.3" y="75" width="471.4" height="1.05" fill="url(#h75)"/><rect x="73.3" y="76" width="471.4" height="1.05" fill="url(#h76)"/><rect x="73.3" y="77" width="471.4" height="1.05" fill="url(#h77)"/><rect x="73.3" y="78" width="471.4" height="1.05" fill="url(#h78)"/><rect x="73.3" y="79" width="471.4" height="1.05" fill="url(#h79)"/><rect x="73.3" y="80" width="471.4" height="1.05" fill="url(#h80)"/><rect x="73.3" y="81" width="471.4" height="1.05" fill="url(#h81)"/><rect x="73.3" y="82" width="471.4" height="1.05" fill="url(#h82)"/><rect x="73.3" y="83" width="471.4" height="1.05" fill="url(#h83)"/><rect x="73.3" y="84" width="471.4" height="1.05" fill="url(#h84)"/><rect x="73.3" y="85" width="471.4" height="1.05" fill="url(#h85)"/><rect x="73.3" y="86" width="471.4" height="1.05" fill="url(#h86)"/><rect x="73.3" y="87" width="471.4" height="1.05" fill="url(#h87)"/><rect x="73.3" y="88" width="471.4" height="1.05" fill="url(#h88)"/><rect x="73.3" y="89" width="471.4" height="1.05" fill="url(#h89)"/><rect x="73.3" y="90" width="471.4" height="1.05" fill="url(#h90)"/><rect x="73.3" y="91" width="471.4" height="1.05" fill="url(#h91)"/><rect x="73.3" y="92" width="471.4" height="1.05" fill="url(#h92)"/><rect x="73.3" y="93" width="471.4" height="1.05" fill="url(#h93)"/><rect x="73.3" y="94" width="471.4" height="1.05" fill="url(#h94)"/><rect x="73.3" y="95" width="471.4" height="1.05" fill="url(#h95)"/><rect x="73.3" y="96" width="471.4" height="1.05" fill="url(#h96)"/><rect x="73.3" y="97" width="471.4" height="1.05" fill="url(#h97)"/><rect x="73.3" y="98" width="471.4" height="1.05" fill="url(#h98)"/><rect x="73.3" y="99" width="471.4" height="1.05" fill="url(#h99)"/><rect x="73.3" y="100" width="471.4" height="1.05" fill="url(#h100)"/><rect x="73.3" y="107" width="471.4" height="1.05" fill="url(#h107)"/><rect x="73.3" y="108" width="471.4" height="1.05" fill="url(#h108)"/><rect x="73.3" y="109" width="471.4" height="1.05" fill="url(#h109)"/><rect x="73.3" y="121" width="471.4" height="1.05" fill="url(#h121)"/><rect x="73.3" y="122" width="471.4" height="1.05" fill="url(#h122)"/><rect x="73.3" y="123" width="471.4" height="1.05" fill="url(#h123)"/><rect x="73.3" y="124" width="471.4" height="1.05" fill="url(#h124)"/><rect x="73.3" y="125" width="471.4" height="1.05" fill="url(#h125)"/><rect x="73.3" y="126" width="471.4" height="1.05" fill="url(#h126)"/><rect x="73.3" y="127" width="471.4" height="1.05" fill="url(#h127)"/><rect x="73.3" y="128" width="471.4" height="1.05" fill="url(#h128)"/><rect x="73.3" y="129" width="471.4" height="1.05" fill="url(#h129)"/><rect x="73.3" y="130" width="471.4" height="1.05" fill="url(#h130)"/><rect x="73.3" y="131" width="471.4" height="1.05" fill="url(#h131)"/><rect x="73.3" y="132" width="471.4" height="1.05" fill="url(#h132)"/><rect x="73.3" y="133" width="471.4" height="1.05" fill="url(#h133)"/><rect x="73.3" y="134" width="471.4" height="1.05" fill="url(#h134)"/><rect x="73.3" y="135" width="471.4" height="1.05" fill="url(#h135)"/><rect x="73.3" y="136" width="471.4" height="1.05" fill="url(#h136)"/><rect x="73.3" y="137" width="471.4" height="1.05" fill="url(#h137)"/><rect x="73.3" y="138" width="471.4" height="1.05" fill="url(#h138)"/><rect x="73.3" y="143" width="471.4" height="1.05" fill="url(#h143)"/><rect x="73.3" y="144" width="471.4" height="1.05" fill="url(#h144)"/><rect x="73.3" y="145" width="471.4" height="1.05" fill="url(#h145)"/><rect x="73.3" y="146" width="471.4" height="1.05" fill="url(#h146)"/><rect x="73.3" y="147" width="471.4" height="1.05" fill="url(#h147)"/></g>
<path d="M545.5 155.7V19.4H73.3V213.4H544.6V155.7" fill="none" stroke="#000" stroke-width="1.3"/><line x1="69.3" x2="73.3" y1="213.4" y2="213.4" stroke="#000" stroke-width="1.3"/><text x="67" y="217.7" font-size="12" text-anchor="end" fill="#000" >0.6</text><line x1="69.3" x2="73.3" y1="181.1" y2="181.1" stroke="#000" stroke-width="1.3"/><text x="67" y="185.4" font-size="12" text-anchor="end" fill="#000" >0.7</text><line x1="69.3" x2="73.3" y1="148.7" y2="148.7" stroke="#000" stroke-width="1.3"/><text x="67" y="153.0" font-size="12" text-anchor="end" fill="#000" >0.8</text><line x1="69.3" x2="73.3" y1="116.4" y2="116.4" stroke="#000" stroke-width="1.3"/><text x="67" y="120.7" font-size="12" text-anchor="end" fill="#000" >0.9</text><line x1="69.3" x2="73.3" y1="84.1" y2="84.1" stroke="#000" stroke-width="1.3"/><text x="67" y="88.4" font-size="12" text-anchor="end" fill="#000" >1.0</text><line x1="69.3" x2="73.3" y1="51.7" y2="51.7" stroke="#000" stroke-width="1.3"/><text x="67" y="56.0" font-size="12" text-anchor="end" fill="#000" >1.1</text><line x1="69.3" x2="73.3" y1="19.4" y2="19.4" stroke="#000" stroke-width="1.3"/><text x="67" y="23.7" font-size="12" text-anchor="end" fill="#000" >1.2</text><line x1="145.2" x2="145.2" y1="213.4" y2="217.0" stroke="#000" stroke-width="1.3"/><text x="145.2" y="230.2" font-size="12" text-anchor="middle" fill="#000" >10</text><line x1="225.1" x2="225.1" y1="213.4" y2="217.0" stroke="#000" stroke-width="1.3"/><text x="225.1" y="230.2" font-size="12" text-anchor="middle" fill="#000" >20</text><line x1="305.0" x2="305.0" y1="213.4" y2="217.0" stroke="#000" stroke-width="1.3"/><text x="305.0" y="230.2" font-size="12" text-anchor="middle" fill="#000" >30</text><line x1="384.9" x2="384.9" y1="213.4" y2="217.0" stroke="#000" stroke-width="1.3"/><text x="384.9" y="230.2" font-size="12" text-anchor="middle" fill="#000" >40</text><line x1="464.8" x2="464.8" y1="213.4" y2="217.0" stroke="#000" stroke-width="1.3"/><text x="464.8" y="230.2" font-size="12" text-anchor="middle" fill="#000" >50</text><line x1="544.7" x2="544.7" y1="213.4" y2="217.0" stroke="#000" stroke-width="1.3"/><text x="544.7" y="230.2" font-size="12" text-anchor="middle" fill="#000" >60</text><line x1="105.3" x2="105.3" y1="213.4" y2="215.4" stroke="#000" stroke-width="1.2"/><line x1="185.2" x2="185.2" y1="213.4" y2="215.4" stroke="#000" stroke-width="1.2"/><line x1="265.1" x2="265.1" y1="213.4" y2="215.4" stroke="#000" stroke-width="1.2"/><line x1="345.0" x2="345.0" y1="213.4" y2="215.4" stroke="#000" stroke-width="1.2"/><line x1="424.9" x2="424.9" y1="213.4" y2="215.4" stroke="#000" stroke-width="1.2"/><line x1="504.8" x2="504.8" y1="213.4" y2="215.4" stroke="#000" stroke-width="1.2"/><text x="305.6" y="249.8" font-size="16.5" text-anchor="middle" fill="#000" >Time (s)</text><text transform="translate(42,117) rotate(-90)" font-size="16" text-anchor="middle"><tspan font-style="italic">q</tspan> (Å<tspan dy="-6" font-size="10.5">-1</tspan><tspan dy="6">)</tspan></text><line x1="225.7" x2="225.7" y1="19.4" y2="213.4" stroke="#fff" stroke-width="1.4" stroke-dasharray="7.6 7" stroke-dashoffset="0.3"/><path d="M263.7 26.6H232 M239 23L231.8 26.6L239 30.2" fill="none" stroke="#fff" stroke-width="1.4"/><text x="260.4" y="40.6" font-size="12.8" text-anchor="start" fill="#fff" >LA Starting Point</text><text x="75.3" y="79.5" font-size="12.6" text-anchor="start" fill="#fff" >3C</text><text x="75.3" y="123.5" font-size="12.6" text-anchor="start" fill="#fff" >6H</text><text x="75.3" y="135" font-size="12.6" text-anchor="start" fill="#fff" >2H</text><text x="75.3" y="148" font-size="12.6" text-anchor="start" fill="#fff" >4H</text><text x="75.3" y="110.5" font-size="12.6" fill="#fff">PbI<tspan dy="3" font-size="8.5">2</tspan></text><rect x="573" y="31" width="21" height="186" fill="url(#cb)" clip-path="url(#cbc)"/><path d="M574.4 31V155.7M593.9 31V155.7M573.1 155.7V217M592.7 155.7V217" stroke="#777" stroke-opacity="0.45" stroke-width="0.8" fill="none"/><text x="551.4" y="23.8" font-size="12.8" text-anchor="start" fill="#000" >Intensity (a.u.)</text><text x="600" y="39.9" font-size="12.6" text-anchor="start" fill="#000" >1.0</text><text x="601.5" y="218.2" font-size="12.6" text-anchor="start" fill="#000" >0</text><rect x="555" y="23.2" width="23" height="23" fill="#000" opacity="0.22" filter="url(#sh)"/><rect x="555" y="22.3" width="22.8" height="22.9" fill="#fff"/><g fill="none" stroke="#5a5a5a" stroke-width="0.9"><path d="M561.8 27H559V29.8M570 27H572.8V29.8M559 37.7V40.5H561.8M572.8 37.7V40.5H570"/><path d="M561.6 29.8V38.2H570.3V29.8M561.6 32H570.3M561.6 35.1H570.3M564.5 32V38.2M567.4 32V38.2" stroke="#4a4a4a"/><path d="M561.2 29.8H570.7" stroke="#e86060" stroke-width="1"/></g><text transform="translate(21.8,24.9) scale(0.833,1)" font-size="23.1" font-weight="bold">A</text>
<path d="M690.3 155.5V11.9H878.6V155.5" fill="none" stroke="#2b2b2b" stroke-width="1.5"/><path d="M689.4 155.5V163.0H877.0V155.5" fill="none" stroke="#2b2b2b" stroke-width="1.6"/><line x1="686.9" x2="690.3" y1="163.0" y2="163.0" stroke="#2b2b2b" stroke-width="1.2"/><text x="685.3" y="166.4" font-size="9.6" text-anchor="end" fill="#000" >0</text><line x1="686.9" x2="690.3" y1="144.1" y2="144.1" stroke="#2b2b2b" stroke-width="1.2"/><text x="685.3" y="147.5" font-size="9.6" text-anchor="end" fill="#000" >1</text><line x1="686.9" x2="690.3" y1="125.2" y2="125.2" stroke="#2b2b2b" stroke-width="1.2"/><text x="685.3" y="128.6" font-size="9.6" text-anchor="end" fill="#000" >2</text><line x1="686.9" x2="690.3" y1="106.3" y2="106.3" stroke="#2b2b2b" stroke-width="1.2"/><text x="685.3" y="109.7" font-size="9.6" text-anchor="end" fill="#000" >3</text><line x1="686.9" x2="690.3" y1="87.4" y2="87.4" stroke="#2b2b2b" stroke-width="1.2"/><text x="685.3" y="90.8" font-size="9.6" text-anchor="end" fill="#000" >4</text><line x1="686.9" x2="690.3" y1="68.5" y2="68.5" stroke="#2b2b2b" stroke-width="1.2"/><text x="685.3" y="72.0" font-size="9.6" text-anchor="end" fill="#000" >5</text><line x1="686.9" x2="690.3" y1="49.7" y2="49.7" stroke="#2b2b2b" stroke-width="1.2"/><text x="685.3" y="53.1" font-size="9.6" text-anchor="end" fill="#000" >6</text><line x1="686.9" x2="690.3" y1="30.8" y2="30.8" stroke="#2b2b2b" stroke-width="1.2"/><text x="685.3" y="34.2" font-size="9.6" text-anchor="end" fill="#000" >7</text><line x1="686.9" x2="690.3" y1="11.9" y2="11.9" stroke="#2b2b2b" stroke-width="1.2"/><text x="685.3" y="15.3" font-size="9.6" text-anchor="end" fill="#000" >8</text><line x1="688.5" x2="690.3" y1="153.6" y2="153.6" stroke="#2b2b2b" stroke-width="1.1"/><line x1="688.5" x2="690.3" y1="134.7" y2="134.7" stroke="#2b2b2b" stroke-width="1.1"/><line x1="688.5" x2="690.3" y1="115.8" y2="115.8" stroke="#2b2b2b" stroke-width="1.1"/><line x1="688.5" x2="690.3" y1="96.9" y2="96.9" stroke="#2b2b2b" stroke-width="1.1"/><line x1="688.5" x2="690.3" y1="78.0" y2="78.0" stroke="#2b2b2b" stroke-width="1.1"/><line x1="688.5" x2="690.3" y1="59.1" y2="59.1" stroke="#2b2b2b" stroke-width="1.1"/><line x1="688.5" x2="690.3" y1="40.2" y2="40.2" stroke="#2b2b2b" stroke-width="1.1"/><line x1="688.5" x2="690.3" y1="21.3" y2="21.3" stroke="#2b2b2b" stroke-width="1.1"/><line x1="715.0" x2="715.0" y1="163.0" y2="166.4" stroke="#2b2b2b" stroke-width="1.2"/><text x="715.0" y="175.8" font-size="9.6" text-anchor="middle" fill="#000" >100</text><line x1="743.9" x2="743.9" y1="163.0" y2="166.4" stroke="#2b2b2b" stroke-width="1.2"/><text x="743.9" y="175.8" font-size="9.6" text-anchor="middle" fill="#000" >120</text><line x1="772.8" x2="772.8" y1="163.0" y2="166.4" stroke="#2b2b2b" stroke-width="1.2"/><text x="772.8" y="175.8" font-size="9.6" text-anchor="middle" fill="#000" >140</text><line x1="801.7" x2="801.7" y1="163.0" y2="166.4" stroke="#2b2b2b" stroke-width="1.2"/><text x="801.7" y="175.8" font-size="9.6" text-anchor="middle" fill="#000" >160</text><line x1="830.6" x2="830.6" y1="163.0" y2="166.4" stroke="#2b2b2b" stroke-width="1.2"/><text x="830.6" y="175.8" font-size="9.6" text-anchor="middle" fill="#000" >180</text><line x1="859.5" x2="859.5" y1="163.0" y2="166.4" stroke="#2b2b2b" stroke-width="1.2"/><text x="859.5" y="175.8" font-size="9.6" text-anchor="middle" fill="#000" >200</text><line x1="700.5" x2="700.5" y1="163.0" y2="164.9" stroke="#2b2b2b" stroke-width="1.1"/><line x1="729.5" x2="729.5" y1="163.0" y2="164.9" stroke="#2b2b2b" stroke-width="1.1"/><line x1="758.4" x2="758.4" y1="163.0" y2="164.9" stroke="#2b2b2b" stroke-width="1.1"/><line x1="787.2" x2="787.2" y1="163.0" y2="164.9" stroke="#2b2b2b" stroke-width="1.1"/><line x1="816.1" x2="816.1" y1="163.0" y2="164.9" stroke="#2b2b2b" stroke-width="1.1"/><line x1="845.0" x2="845.0" y1="163.0" y2="164.9" stroke="#2b2b2b" stroke-width="1.1"/><line x1="874.0" x2="874.0" y1="163.0" y2="164.9" stroke="#2b2b2b" stroke-width="1.1"/><path d="M692.6 130.5L701.3 130.9L710.1 130.9L718.8 131.1L727.6 131.1L736.3 130.9L745.1 130.7L753.8 130.7L762.5 130.7L771.3 130.7L780.0 130.5L788.8 130.3L797.5 130.1L806.3 130.1L815.0 129.9L823.7 129.8L832.5 129.4L841.2 129.0L850.0 128.4L858.7 127.9L867.4 127.1L876.2 126.2" fill="none" stroke="#8fd7c1" stroke-width="1.3" stroke-linejoin="round"/><g fill="url(#mkm)"><circle cx="692.6" cy="130.5" r="2.45"/><circle cx="701.3" cy="130.9" r="2.45"/><circle cx="710.1" cy="130.9" r="2.45"/><circle cx="718.8" cy="131.1" r="2.45"/><circle cx="727.6" cy="131.1" r="2.45"/><circle cx="736.3" cy="130.9" r="2.45"/><circle cx="745.1" cy="130.7" r="2.45"/><circle cx="753.8" cy="130.7" r="2.45"/><circle cx="762.5" cy="130.7" r="2.45"/><circle cx="771.3" cy="130.7" r="2.45"/><circle cx="780.0" cy="130.5" r="2.45"/><circle cx="788.8" cy="130.3" r="2.45"/><circle cx="797.5" cy="130.1" r="2.45"/><circle cx="806.3" cy="130.1" r="2.45"/><circle cx="815.0" cy="129.9" r="2.45"/><circle cx="823.7" cy="129.8" r="2.45"/><circle cx="832.5" cy="129.4" r="2.45"/><circle cx="841.2" cy="129.0" r="2.45"/><circle cx="850.0" cy="128.4" r="2.45"/><circle cx="858.7" cy="127.9" r="2.45"/><circle cx="867.4" cy="127.1" r="2.45"/><circle cx="876.2" cy="126.2" r="2.45"/></g><line x1="692.4" x2="720.8" y1="20.1" y2="20.1" stroke="#8fd7c1" stroke-width="1.3"/><path d="M706.3 20.1" fill="none" stroke="#8fd7c1" stroke-width="1.4" stroke-linejoin="round"/><g fill="url(#mkm)"><circle cx="706.3" cy="20.1" r="2.35"/></g><text x="724.2" y="24.7" font-size="12.4" text-anchor="start" fill="#000" >TA</text><text x="783.1" y="194.9" font-size="12.9" text-anchor="middle" fill="#000" >Time (s)</text><text transform="translate(674.9,87.2) rotate(-90)" font-size="13" text-anchor="middle">Intensity Ratio</text><path d="M929.0 155.5V14.0H1116.4V155.5" fill="none" stroke="#2b2b2b" stroke-width="1.5"/><path d="M927.5 155.5V165.6H1115.0V155.5" fill="none" stroke="#2b2b2b" stroke-width="1.6"/><line x1="925.6" x2="929.0" y1="165.6" y2="165.6" stroke="#2b2b2b" stroke-width="1.2"/><text x="924" y="169.0" font-size="9.6" text-anchor="end" fill="#000" >0</text><line x1="925.6" x2="929.0" y1="146.7" y2="146.7" stroke="#2b2b2b" stroke-width="1.2"/><text x="924" y="150.1" font-size="9.6" text-anchor="end" fill="#000" >1</text><line x1="925.6" x2="929.0" y1="127.7" y2="127.7" stroke="#2b2b2b" stroke-width="1.2"/><text x="924" y="131.1" font-size="9.6" text-anchor="end" fill="#000" >2</text><line x1="925.6" x2="929.0" y1="108.8" y2="108.8" stroke="#2b2b2b" stroke-width="1.2"/><text x="924" y="112.2" font-size="9.6" text-anchor="end" fill="#000" >3</text><line x1="925.6" x2="929.0" y1="89.8" y2="89.8" stroke="#2b2b2b" stroke-width="1.2"/><text x="924" y="93.2" font-size="9.6" text-anchor="end" fill="#000" >4</text><line x1="925.6" x2="929.0" y1="70.8" y2="70.8" stroke="#2b2b2b" stroke-width="1.2"/><text x="924" y="74.2" font-size="9.6" text-anchor="end" fill="#000" >5</text><line x1="925.6" x2="929.0" y1="51.9" y2="51.9" stroke="#2b2b2b" stroke-width="1.2"/><text x="924" y="55.3" font-size="9.6" text-anchor="end" fill="#000" >6</text><line x1="925.6" x2="929.0" y1="32.9" y2="32.9" stroke="#2b2b2b" stroke-width="1.2"/><text x="924" y="36.3" font-size="9.6" text-anchor="end" fill="#000" >7</text><line x1="925.6" x2="929.0" y1="14.0" y2="14.0" stroke="#2b2b2b" stroke-width="1.2"/><text x="924" y="17.4" font-size="9.6" text-anchor="end" fill="#000" >8</text><line x1="927.2" x2="929.0" y1="156.1" y2="156.1" stroke="#2b2b2b" stroke-width="1.1"/><line x1="927.2" x2="929.0" y1="137.2" y2="137.2" stroke="#2b2b2b" stroke-width="1.1"/><line x1="927.2" x2="929.0" y1="118.2" y2="118.2" stroke="#2b2b2b" stroke-width="1.1"/><line x1="927.2" x2="929.0" y1="99.3" y2="99.3" stroke="#2b2b2b" stroke-width="1.1"/><line x1="927.2" x2="929.0" y1="80.3" y2="80.3" stroke="#2b2b2b" stroke-width="1.1"/><line x1="927.2" x2="929.0" y1="61.4" y2="61.4" stroke="#2b2b2b" stroke-width="1.1"/><line x1="927.2" x2="929.0" y1="42.4" y2="42.4" stroke="#2b2b2b" stroke-width="1.1"/><line x1="927.2" x2="929.0" y1="23.5" y2="23.5" stroke="#2b2b2b" stroke-width="1.1"/><line x1="926.9" x2="926.9" y1="165.6" y2="169.0" stroke="#2b2b2b" stroke-width="1.2"/><text x="926.9" y="178.4" font-size="9.6" text-anchor="middle" fill="#000" >0</text><line x1="955.9" x2="955.9" y1="165.6" y2="169.0" stroke="#2b2b2b" stroke-width="1.2"/><text x="955.9" y="178.4" font-size="9.6" text-anchor="middle" fill="#000" >10</text><line x1="984.8" x2="984.8" y1="165.6" y2="169.0" stroke="#2b2b2b" stroke-width="1.2"/><text x="984.8" y="178.4" font-size="9.6" text-anchor="middle" fill="#000" >20</text><line x1="1013.8" x2="1013.8" y1="165.6" y2="169.0" stroke="#2b2b2b" stroke-width="1.2"/><text x="1013.8" y="178.4" font-size="9.6" text-anchor="middle" fill="#000" >30</text><line x1="1042.7" x2="1042.7" y1="165.6" y2="169.0" stroke="#2b2b2b" stroke-width="1.2"/><text x="1042.7" y="178.4" font-size="9.6" text-anchor="middle" fill="#000" >40</text><line x1="1071.7" x2="1071.7" y1="165.6" y2="169.0" stroke="#2b2b2b" stroke-width="1.2"/><text x="1071.7" y="178.4" font-size="9.6" text-anchor="middle" fill="#000" >50</text><line x1="1100.6" x2="1100.6" y1="165.6" y2="169.0" stroke="#2b2b2b" stroke-width="1.2"/><text x="1100.6" y="178.4" font-size="9.6" text-anchor="middle" fill="#000" >60</text><line x1="941.4" x2="941.4" y1="165.6" y2="167.5" stroke="#2b2b2b" stroke-width="1.1"/><line x1="970.3" x2="970.3" y1="165.6" y2="167.5" stroke="#2b2b2b" stroke-width="1.1"/><line x1="999.3" x2="999.3" y1="165.6" y2="167.5" stroke="#2b2b2b" stroke-width="1.1"/><line x1="1028.2" x2="1028.2" y1="165.6" y2="167.5" stroke="#2b2b2b" stroke-width="1.1"/><line x1="1057.2" x2="1057.2" y1="165.6" y2="167.5" stroke="#2b2b2b" stroke-width="1.1"/><line x1="1086.1" x2="1086.1" y1="165.6" y2="167.5" stroke="#2b2b2b" stroke-width="1.1"/><line x1="1115.1" x2="1115.1" y1="165.6" y2="167.5" stroke="#2b2b2b" stroke-width="1.1"/><path d="M931.2 133.0L934.2 131.9L937.1 131.5L940.0 131.3L942.9 131.3L945.8 131.1L948.7 131.1L951.6 131.1L954.5 130.9L957.4 130.0L960.3 130.5L963.2 131.1L966.2 132.2L969.1 130.5L972.0 130.4L974.9 131.5L977.8 132.2L980.7 132.2L983.6 131.5L986.5 130.7L989.4 130.0L992.3 129.0L995.3 127.7L998.2 123.9L1001.1 118.2L1004.0 113.5L1006.9 108.8L1009.8 102.1L1012.7 95.1L1015.6 87.9L1018.5 79.4L1021.4 71.8L1024.3 70.8L1027.3 73.1L1030.2 73.3L1033.1 70.8L1036.0 70.3L1038.9 70.5L1041.8 71.8L1044.7 70.5L1047.6 63.3L1050.5 62.3L1053.4 64.8L1056.3 64.2L1059.3 60.4L1062.2 53.8L1065.1 53.2L1068.0 58.0L1070.9 58.0L1073.8 57.0L1076.7 59.1L1079.6 64.8L1082.5 66.1L1085.4 62.9L1088.4 56.6L1091.3 51.9L1094.2 51.9L1097.1 51.5L1100.0 46.2L1102.9 42.0" fill="none" stroke="#f9765f" stroke-width="1.3" stroke-linejoin="round"/><g fill="url(#mks)"><circle cx="931.2" cy="133.0" r="2.25"/><circle cx="934.2" cy="131.9" r="2.25"/><circle cx="937.1" cy="131.5" r="2.25"/><circle cx="940.0" cy="131.3" r="2.25"/><circle cx="942.9" cy="131.3" r="2.25"/><circle cx="945.8" cy="131.1" r="2.25"/><circle cx="948.7" cy="131.1" r="2.25"/><circle cx="951.6" cy="131.1" r="2.25"/><circle cx="954.5" cy="130.9" r="2.25"/><circle cx="957.4" cy="130.0" r="2.25"/><circle cx="960.3" cy="130.5" r="2.25"/><circle cx="963.2" cy="131.1" r="2.25"/><circle cx="966.2" cy="132.2" r="2.25"/><circle cx="969.1" cy="130.5" r="2.25"/><circle cx="972.0" cy="130.4" r="2.25"/><circle cx="974.9" cy="131.5" r="2.25"/><circle cx="977.8" cy="132.2" r="2.25"/><circle cx="980.7" cy="132.2" r="2.25"/><circle cx="983.6" cy="131.5" r="2.25"/><circle cx="986.5" cy="130.7" r="2.25"/><circle cx="989.4" cy="130.0" r="2.25"/><circle cx="992.3" cy="129.0" r="2.25"/><circle cx="995.3" cy="127.7" r="2.25"/><circle cx="998.2" cy="123.9" r="2.25"/><circle cx="1001.1" cy="118.2" r="2.25"/><circle cx="1004.0" cy="113.5" r="2.25"/><circle cx="1006.9" cy="108.8" r="2.25"/><circle cx="1009.8" cy="102.1" r="2.25"/><circle cx="1012.7" cy="95.1" r="2.25"/><circle cx="1015.6" cy="87.9" r="2.25"/><circle cx="1018.5" cy="79.4" r="2.25"/><circle cx="1021.4" cy="71.8" r="2.25"/><circle cx="1024.3" cy="70.8" r="2.25"/><circle cx="1027.3" cy="73.1" r="2.25"/><circle cx="1030.2" cy="73.3" r="2.25"/><circle cx="1033.1" cy="70.8" r="2.25"/><circle cx="1036.0" cy="70.3" r="2.25"/><circle cx="1038.9" cy="70.5" r="2.25"/><circle cx="1041.8" cy="71.8" r="2.25"/><circle cx="1044.7" cy="70.5" r="2.25"/><circle cx="1047.6" cy="63.3" r="2.25"/><circle cx="1050.5" cy="62.3" r="2.25"/><circle cx="1053.4" cy="64.8" r="2.25"/><circle cx="1056.3" cy="64.2" r="2.25"/><circle cx="1059.3" cy="60.4" r="2.25"/><circle cx="1062.2" cy="53.8" r="2.25"/><circle cx="1065.1" cy="53.2" r="2.25"/><circle cx="1068.0" cy="58.0" r="2.25"/><circle cx="1070.9" cy="58.0" r="2.25"/><circle cx="1073.8" cy="57.0" r="2.25"/><circle cx="1076.7" cy="59.1" r="2.25"/><circle cx="1079.6" cy="64.8" r="2.25"/><circle cx="1082.5" cy="66.1" r="2.25"/><circle cx="1085.4" cy="62.9" r="2.25"/><circle cx="1088.4" cy="56.6" r="2.25"/><circle cx="1091.3" cy="51.9" r="2.25"/><circle cx="1094.2" cy="51.9" r="2.25"/><circle cx="1097.1" cy="51.5" r="2.25"/><circle cx="1100.0" cy="46.2" r="2.25"/><circle cx="1102.9" cy="42.0" r="2.25"/></g><line x1="933" x2="962" y1="24.2" y2="24.2" stroke="#f9765f" stroke-width="1.3"/><path d="M947.5 24.2" fill="none" stroke="#f9765f" stroke-width="1.4" stroke-linejoin="round"/><g fill="url(#mks)"><circle cx="947.5" cy="24.2" r="2.35"/></g><text x="965.4" y="28.7" font-size="12.4" text-anchor="start" fill="#000" >LA</text><text x="1020.8" y="197.0" font-size="12.9" text-anchor="middle" fill="#000" >Time (s)</text><text transform="translate(914.3,89.7) rotate(-90)" font-size="13" text-anchor="middle">Intensity Ratio</text><text transform="translate(640.6,24.9) scale(0.871,1)" font-size="22.4" font-weight="bold">B</text>
<g fill="none" clip-path="url(#dl)"><path d="M706.3 222.2C709.1 225.8 718.3 237.6 723.2 244.2C728.1 250.8 731.6 256.1 735.7 261.8C739.9 267.5 744.1 273.2 748.3 278.5C752.5 283.7 756.7 288.7 760.9 293.3C765.1 297.8 769.3 302.0 773.5 305.8C777.7 309.6 781.9 312.9 786.1 315.9C790.3 318.9 794.5 321.5 798.7 323.7C802.8 326.0 807.0 327.9 811.2 329.5C815.4 331.1 819.6 332.4 823.8 333.5C828.0 334.6 832.2 335.4 836.4 336.0C840.6 336.7 844.8 337.1 849.0 337.5C853.2 337.8 857.4 338.0 861.6 338.1C865.8 338.3 869.5 338.3 874.1 338.4C878.8 338.5 886.7 338.8 889.2 338.9" stroke="#1919ff" stroke-width="1.15"/><path d="M706.3 219.6C709.1 223.1 718.3 234.3 723.2 240.5C728.1 246.8 731.6 251.7 735.7 257.2C739.9 262.6 744.1 268.0 748.3 273.1C752.5 278.2 756.7 283.1 760.9 287.7C765.1 292.2 769.3 296.5 773.5 300.4C777.7 304.3 781.9 307.9 786.1 311.1C790.3 314.4 794.5 317.3 798.7 319.9C802.8 322.5 807.0 324.7 811.2 326.7C815.4 328.7 819.6 330.4 823.8 331.8C828.0 333.2 832.2 334.3 836.4 335.3C840.6 336.2 844.8 336.9 849.0 337.4C853.2 338.0 857.4 338.3 861.6 338.5C865.8 338.8 869.5 338.8 874.1 339.1C878.8 339.3 886.7 339.8 889.2 339.9" stroke="#1e1eff" stroke-width="1.15"/><path d="M706.3 217.1C709.1 220.5 718.3 231.2 723.2 237.1C728.1 243.1 731.6 247.7 735.7 252.9C739.9 258.0 744.1 263.2 748.3 268.2C752.5 273.1 756.7 277.9 760.9 282.4C765.1 287.0 769.3 291.3 773.5 295.4C777.7 299.4 781.9 303.2 786.1 306.7C790.3 310.1 794.5 313.4 798.7 316.3C802.8 319.2 807.0 321.8 811.2 324.1C815.4 326.4 819.6 328.5 823.8 330.2C828.0 331.9 832.2 333.4 836.4 334.6C840.6 335.8 844.8 336.6 849.0 337.4C853.2 338.1 857.4 338.5 861.6 338.9C865.8 339.3 869.5 339.4 874.1 339.7C878.8 340.0 886.7 340.6 889.2 340.8" stroke="#2727ff" stroke-width="1.15"/><path d="M706.3 215.1C709.1 218.3 718.3 228.6 723.2 234.3C728.1 239.9 731.6 244.3 735.7 249.2C739.9 254.2 744.1 259.2 748.3 264.0C752.5 268.8 756.7 273.5 760.9 278.0C765.1 282.6 769.3 286.9 773.5 291.1C777.7 295.2 781.9 299.2 786.1 302.9C790.3 306.6 794.5 310.1 798.7 313.2C802.8 316.4 807.0 319.3 811.2 321.9C815.4 324.5 819.6 326.9 823.8 328.9C828.0 330.9 832.2 332.6 836.4 334.0C840.6 335.4 844.8 336.4 849.0 337.3C853.2 338.2 857.4 338.7 861.6 339.2C865.8 339.7 869.5 339.8 874.1 340.2C878.8 340.6 886.7 341.4 889.2 341.6" stroke="#3333ff" stroke-width="1.15"/><path d="M706.3 213.2C709.1 216.3 718.3 226.2 723.2 231.6C728.1 237.1 731.6 241.2 735.7 245.9C739.9 250.7 744.1 255.5 748.3 260.1C752.5 264.8 756.7 269.5 760.9 274.0C765.1 278.5 769.3 283.0 773.5 287.2C777.7 291.5 781.9 295.6 786.1 299.5C790.3 303.3 794.5 307.1 798.7 310.5C802.8 313.9 807.0 317.1 811.2 319.9C815.4 322.8 819.6 325.4 823.8 327.6C828.0 329.9 832.2 331.8 836.4 333.4C840.6 335.0 844.8 336.3 849.0 337.3C853.2 338.3 857.4 338.9 861.6 339.5C865.8 340.1 869.5 340.2 874.1 340.7C878.8 341.1 886.7 342.1 889.2 342.3" stroke="#4141ff" stroke-width="1.15"/><path d="M706.3 211.5C709.1 214.5 718.3 224.0 723.2 229.3C728.1 234.5 731.6 238.4 735.7 242.9C739.9 247.5 744.1 252.1 748.3 256.7C752.5 261.3 756.7 265.9 760.9 270.4C765.1 274.9 769.3 279.4 773.5 283.7C777.7 288.1 781.9 292.3 786.1 296.4C790.3 300.4 794.5 304.3 798.7 308.0C802.8 311.6 807.0 315.1 811.2 318.1C815.4 321.2 819.6 324.1 823.8 326.5C828.0 329.0 832.2 331.1 836.4 332.9C840.6 334.7 844.8 336.1 849.0 337.2C853.2 338.4 857.4 339.1 861.6 339.7C865.8 340.4 869.5 340.5 874.1 341.1C878.8 341.6 886.7 342.7 889.2 343.0" stroke="#5151ff" stroke-width="1.7"/><path d="M706.3 210.0C709.1 212.9 718.3 222.1 723.2 227.2C728.1 232.2 731.6 235.9 735.7 240.3C739.9 244.7 744.1 249.2 748.3 253.7C752.5 258.1 756.7 262.7 760.9 267.2C765.1 271.7 769.3 276.2 773.5 280.6C777.7 285.0 781.9 289.4 786.1 293.6C790.3 297.8 794.5 301.9 798.7 305.8C802.8 309.6 807.0 313.3 811.2 316.6C815.4 319.9 819.6 322.9 823.8 325.6C828.0 328.2 832.2 330.5 836.4 332.5C840.6 334.4 844.8 336.0 849.0 337.2C853.2 338.5 857.4 339.3 861.6 340.0C865.8 340.7 869.5 340.9 874.1 341.5C878.8 342.1 886.7 343.2 889.2 343.5" stroke="#6363ff" stroke-width="1.7"/><path d="M706.3 208.7C709.1 211.5 718.3 220.5 723.2 225.3C728.1 230.2 731.6 233.7 735.7 238.0C739.9 242.2 744.1 246.6 748.3 251.0C752.5 255.4 756.7 259.9 760.9 264.4C765.1 268.9 769.3 273.4 773.5 277.9C777.7 282.4 781.9 286.9 786.1 291.2C790.3 295.6 794.5 299.8 798.7 303.8C802.8 307.8 807.0 311.7 811.2 315.2C815.4 318.6 819.6 321.9 823.8 324.7C828.0 327.5 832.2 330.0 836.4 332.1C840.6 334.2 844.8 335.8 849.0 337.2C853.2 338.5 857.4 339.4 861.6 340.2C865.8 340.9 869.5 341.1 874.1 341.8C878.8 342.4 886.7 343.7 889.2 344.0" stroke="#7676ff" stroke-width="1.7"/><path d="M706.3 207.6C709.1 210.3 718.3 219.0 723.2 223.8C728.1 228.5 731.6 231.8 735.7 236.0C739.9 240.1 744.1 244.4 748.3 248.7C752.5 253.0 756.7 257.5 760.9 262.0C765.1 266.5 769.3 271.1 773.5 275.6C777.7 280.1 781.9 284.8 786.1 289.2C790.3 293.6 794.5 298.0 798.7 302.2C802.8 306.3 807.0 310.3 811.2 314.0C815.4 317.6 819.6 321.0 823.8 324.0C828.0 327.0 832.2 329.6 836.4 331.8C840.6 334.0 844.8 335.7 849.0 337.2C853.2 338.6 857.4 339.5 861.6 340.3C865.8 341.1 869.5 341.4 874.1 342.1C878.8 342.8 886.7 344.1 889.2 344.5" stroke="#8b8bff" stroke-width="1.7"/><path d="M706.3 206.5C709.1 209.1 718.3 217.6 723.2 222.2C728.1 226.8 731.6 230.0 735.7 234.0C739.9 238.0 744.1 242.1 748.3 246.4C752.5 250.7 756.7 255.1 760.9 259.6C765.1 264.0 769.3 268.7 773.5 273.3C777.7 277.9 781.9 282.6 786.1 287.1C790.3 291.7 794.5 296.2 798.7 300.5C802.8 304.8 807.0 309.0 811.2 312.8C815.4 316.6 819.6 320.1 823.8 323.3C828.0 326.4 832.2 329.1 836.4 331.4C840.6 333.8 844.8 335.6 849.0 337.1C853.2 338.6 857.4 339.6 861.6 340.5C865.8 341.4 869.5 341.6 874.1 342.4C878.8 343.1 886.7 344.5 889.2 344.9" stroke="#a1a1ff" stroke-width="1.7"/><path d="M706.3 205.5C709.1 208.1 718.3 216.4 723.2 220.9C728.1 225.4 731.6 228.4 735.7 232.3C739.9 236.3 744.1 240.3 748.3 244.5C752.5 248.7 756.7 253.1 760.9 257.6C765.1 262.0 769.3 266.7 773.5 271.3C777.7 276.0 781.9 280.8 786.1 285.4C790.3 290.0 794.5 294.7 798.7 299.1C802.8 303.5 807.0 307.9 811.2 311.8C815.4 315.7 819.6 319.4 823.8 322.6C828.0 325.9 832.2 328.8 836.4 331.2C840.6 333.6 844.8 335.5 849.0 337.1C853.2 338.7 857.4 339.7 861.6 340.6C865.8 341.6 869.5 341.8 874.1 342.6C878.8 343.4 886.7 344.8 889.2 345.3" stroke="#b9b9ff" stroke-width="1.7"/><path d="M706.3 204.8C709.1 207.3 718.3 215.5 723.2 219.8C728.1 224.2 731.6 227.2 735.7 231.0C739.9 234.9 744.1 238.8 748.3 243.0C752.5 247.1 756.7 251.5 760.9 255.9C765.1 260.4 769.3 265.1 773.5 269.8C777.7 274.5 781.9 279.3 786.1 284.0C790.3 288.7 794.5 293.5 798.7 298.0C802.8 302.5 807.0 307.0 811.2 311.0C815.4 315.0 819.6 318.8 823.8 322.2C828.0 325.5 832.2 328.5 836.4 331.0C840.6 333.4 844.8 335.5 849.0 337.1C853.2 338.7 857.4 339.8 861.6 340.7C865.8 341.7 869.5 342.0 874.1 342.8C878.8 343.6 886.7 345.1 889.2 345.5" stroke="#d2d2ff" stroke-width="1.7"/><path d="M706.3 203.5C709.1 205.9 718.3 213.8 723.2 218.0C728.1 222.2 731.6 225.0 735.7 228.7C739.9 232.4 744.1 236.2 748.3 240.3C752.5 244.4 756.7 248.7 760.9 253.1C765.1 257.6 769.3 262.3 773.5 267.1C777.7 271.8 781.9 276.8 786.1 281.6C790.3 286.5 794.5 291.4 798.7 296.1C802.8 300.8 807.0 305.4 811.2 309.6C815.4 313.8 819.6 317.8 823.8 321.3C828.0 324.8 832.2 327.9 836.4 330.6C840.6 333.2 844.8 335.3 849.0 337.1C853.2 338.8 857.4 339.9 861.6 340.9C865.8 342.0 869.5 342.3 874.1 343.1C878.8 344.0 886.7 345.5 889.2 346.0" stroke="#ff0000" stroke-width="2.3"/></g><path d="M763.9 302.2L797.6 274.5M789.4 275.2L798.2 274L795.3 282.4" fill="none" stroke="#8fd7c1" stroke-width="1.8" stroke-linecap="round" stroke-linejoin="round"/><rect x="698.5" y="199.2" width="188.9" height="151.7" fill="none" stroke="#111" stroke-width="1.4"/><line x1="695.3" x2="698.5" y1="222.4" y2="222.4" stroke="#111" stroke-width="1.1"/><text x="693.2" y="226.0" font-size="9.4" text-anchor="end">10<tspan font-size="6.6" dy="-3.6">3</tspan></text><line x1="695.3" x2="698.5" y1="280.1" y2="280.1" stroke="#111" stroke-width="1.1"/><text x="693.2" y="283.8" font-size="9.4" text-anchor="end">10<tspan font-size="6.6" dy="-3.6">2</tspan></text><line x1="695.3" x2="698.5" y1="337.9" y2="337.9" stroke="#111" stroke-width="1.1"/><text x="693.2" y="341.5" font-size="9.4" text-anchor="end">10<tspan font-size="6.6" dy="-3.6">1</tspan></text><line x1="696.8" x2="698.5" y1="205.0" y2="205.0" stroke="#111" stroke-width="0.8"/><line x1="696.8" x2="698.5" y1="262.8" y2="262.8" stroke="#111" stroke-width="0.8"/><line x1="696.8" x2="698.5" y1="252.6" y2="252.6" stroke="#111" stroke-width="0.8"/><line x1="696.8" x2="698.5" y1="245.4" y2="245.4" stroke="#111" stroke-width="0.8"/><line x1="696.8" x2="698.5" y1="239.8" y2="239.8" stroke="#111" stroke-width="0.8"/><line x1="696.8" x2="698.5" y1="235.2" y2="235.2" stroke="#111" stroke-width="0.8"/><line x1="696.8" x2="698.5" y1="231.3" y2="231.3" stroke="#111" stroke-width="0.8"/><line x1="696.8" x2="698.5" y1="228.0" y2="228.0" stroke="#111" stroke-width="0.8"/><line x1="696.8" x2="698.5" y1="225.0" y2="225.0" stroke="#111" stroke-width="0.8"/><line x1="696.8" x2="698.5" y1="320.5" y2="320.5" stroke="#111" stroke-width="0.8"/><line x1="696.8" x2="698.5" y1="310.3" y2="310.3" stroke="#111" stroke-width="0.8"/><line x1="696.8" x2="698.5" y1="303.1" y2="303.1" stroke="#111" stroke-width="0.8"/><line x1="696.8" x2="698.5" y1="297.5" y2="297.5" stroke="#111" stroke-width="0.8"/><line x1="696.8" x2="698.5" y1="293.0" y2="293.0" stroke="#111" stroke-width="0.8"/><line x1="696.8" x2="698.5" y1="289.1" y2="289.1" stroke="#111" stroke-width="0.8"/><line x1="696.8" x2="698.5" y1="285.7" y2="285.7" stroke="#111" stroke-width="0.8"/><line x1="696.8" x2="698.5" y1="282.8" y2="282.8" stroke="#111" stroke-width="0.8"/><line x1="696.8" x2="698.5" y1="350.7" y2="350.7" stroke="#111" stroke-width="0.8"/><line x1="696.8" x2="698.5" y1="346.8" y2="346.8" stroke="#111" stroke-width="0.8"/><line x1="696.8" x2="698.5" y1="343.5" y2="343.5" stroke="#111" stroke-width="0.8"/><line x1="696.8" x2="698.5" y1="340.5" y2="340.5" stroke="#111" stroke-width="0.8"/><line x1="698.5" x2="698.5" y1="350.9" y2="354.09999999999997" stroke="#111" stroke-width="1.1"/><text x="698.5" y="363.5" font-size="9.7" text-anchor="middle">0.1</text><line x1="765.8" x2="765.8" y1="350.9" y2="354.09999999999997" stroke="#111" stroke-width="1.1"/><text x="765.8" y="363.5" font-size="9.7" text-anchor="middle">0.2</text><line x1="805.1" x2="805.1" y1="350.9" y2="354.09999999999997" stroke="#111" stroke-width="1.1"/><text x="805.1" y="363.5" font-size="9.7" text-anchor="middle">0.3</text><line x1="833.1" x2="833.1" y1="350.9" y2="354.09999999999997" stroke="#111" stroke-width="1.1"/><text x="833.1" y="363.5" font-size="9.7" text-anchor="middle">0.4</text><line x1="854.7" x2="854.7" y1="350.9" y2="354.09999999999997" stroke="#111" stroke-width="1.1"/><text x="854.7" y="363.5" font-size="9.7" text-anchor="middle">0.5</text><line x1="872.4" x2="872.4" y1="350.9" y2="354.09999999999997" stroke="#111" stroke-width="1.1"/><text x="872.4" y="363.5" font-size="9.7" text-anchor="middle">0.6</text><line x1="887.4" x2="887.4" y1="350.9" y2="354.09999999999997" stroke="#111" stroke-width="1.1"/><text x="887.4" y="363.5" font-size="9.7" text-anchor="middle">0.7</text><line x1="707.8" x2="707.8" y1="350.9" y2="352.5" stroke="#111" stroke-width="0.6"/><line x1="716.2" x2="716.2" y1="350.9" y2="352.5" stroke="#111" stroke-width="0.6"/><line x1="724.0" x2="724.0" y1="350.9" y2="352.5" stroke="#111" stroke-width="0.6"/><line x1="731.2" x2="731.2" y1="350.9" y2="352.5" stroke="#111" stroke-width="0.6"/><line x1="737.9" x2="737.9" y1="350.9" y2="352.5" stroke="#111" stroke-width="0.6"/><line x1="744.1" x2="744.1" y1="350.9" y2="352.5" stroke="#111" stroke-width="0.6"/><line x1="750.0" x2="750.0" y1="350.9" y2="352.5" stroke="#111" stroke-width="0.6"/><line x1="755.6" x2="755.6" y1="350.9" y2="352.5" stroke="#111" stroke-width="0.6"/><line x1="760.8" x2="760.8" y1="350.9" y2="352.5" stroke="#111" stroke-width="0.6"/><line x1="770.5" x2="770.5" y1="350.9" y2="352.5" stroke="#111" stroke-width="0.6"/><line x1="775.0" x2="775.0" y1="350.9" y2="352.5" stroke="#111" stroke-width="0.6"/><line x1="779.4" x2="779.4" y1="350.9" y2="352.5" stroke="#111" stroke-width="0.6"/><line x1="783.5" x2="783.5" y1="350.9" y2="352.5" stroke="#111" stroke-width="0.6"/><line x1="787.4" x2="787.4" y1="350.9" y2="352.5" stroke="#111" stroke-width="0.6"/><line x1="791.3" x2="791.3" y1="350.9" y2="352.5" stroke="#111" stroke-width="0.6"/><line x1="794.9" x2="794.9" y1="350.9" y2="352.5" stroke="#111" stroke-width="0.6"/><line x1="798.5" x2="798.5" y1="350.9" y2="352.5" stroke="#111" stroke-width="0.6"/><line x1="801.9" x2="801.9" y1="350.9" y2="352.5" stroke="#111" stroke-width="0.6"/><line x1="808.3" x2="808.3" y1="350.9" y2="352.5" stroke="#111" stroke-width="0.6"/><line x1="811.4" x2="811.4" y1="350.9" y2="352.5" stroke="#111" stroke-width="0.6"/><line x1="814.4" x2="814.4" y1="350.9" y2="352.5" stroke="#111" stroke-width="0.6"/><line x1="817.3" x2="817.3" y1="350.9" y2="352.5" stroke="#111" stroke-width="0.6"/><line x1="820.1" x2="820.1" y1="350.9" y2="352.5" stroke="#111" stroke-width="0.6"/><line x1="822.8" x2="822.8" y1="350.9" y2="352.5" stroke="#111" stroke-width="0.6"/><line x1="825.5" x2="825.5" y1="350.9" y2="352.5" stroke="#111" stroke-width="0.6"/><line x1="828.1" x2="828.1" y1="350.9" y2="352.5" stroke="#111" stroke-width="0.6"/><line x1="830.6" x2="830.6" y1="350.9" y2="352.5" stroke="#111" stroke-width="0.6"/><line x1="837.8" x2="837.8" y1="350.9" y2="352.5" stroke="#111" stroke-width="0.6"/><line x1="842.3" x2="842.3" y1="350.9" y2="352.5" stroke="#111" stroke-width="0.6"/><line x1="846.6" x2="846.6" y1="350.9" y2="352.5" stroke="#111" stroke-width="0.6"/><line x1="850.8" x2="850.8" y1="350.9" y2="352.5" stroke="#111" stroke-width="0.6"/><line x1="858.5" x2="858.5" y1="350.9" y2="352.5" stroke="#111" stroke-width="0.6"/><line x1="862.2" x2="862.2" y1="350.9" y2="352.5" stroke="#111" stroke-width="0.6"/><line x1="865.7" x2="865.7" y1="350.9" y2="352.5" stroke="#111" stroke-width="0.6"/><line x1="869.1" x2="869.1" y1="350.9" y2="352.5" stroke="#111" stroke-width="0.6"/><line x1="875.6" x2="875.6" y1="350.9" y2="352.5" stroke="#111" stroke-width="0.6"/><line x1="878.7" x2="878.7" y1="350.9" y2="352.5" stroke="#111" stroke-width="0.6"/><line x1="881.7" x2="881.7" y1="350.9" y2="352.5" stroke="#111" stroke-width="0.6"/><line x1="884.6" x2="884.6" y1="350.9" y2="352.5" stroke="#111" stroke-width="0.6"/><text x="885.8" y="212.4" font-size="12.6" text-anchor="end">TA</text><text transform="translate(673.6,274.9) rotate(-90)" font-size="12.9" text-anchor="middle">Intensity (a.u.)</text><text x="793" y="383.8" font-size="12.8" text-anchor="middle"><tspan font-style="italic">q</tspan><tspan font-style="italic" font-size="9" dy="3">Z</tspan><tspan dy="-3"> (nm</tspan><tspan font-size="8.5" dy="-5">-1</tspan><tspan dy="5">)</tspan></text><g fill="none" clip-path="url(#dr)"><path d="M937.3 219.0C940.1 222.0 949.3 231.7 954.2 237.1C959.1 242.4 962.6 246.3 966.7 251.0C970.9 255.8 975.1 260.7 979.3 265.6C983.5 270.5 987.7 275.5 991.9 280.3C996.1 285.0 1000.3 289.8 1004.5 294.2C1008.7 298.6 1012.9 302.9 1017.1 306.7C1021.3 310.5 1025.5 314.0 1029.7 317.1C1033.8 320.2 1038.0 322.9 1042.2 325.2C1046.4 327.6 1050.6 329.5 1054.8 331.2C1059.0 332.8 1063.2 334.1 1067.4 335.3C1071.6 336.4 1075.8 337.3 1080.0 338.1C1084.2 338.9 1088.4 339.6 1092.6 340.2C1096.8 340.8 1100.5 341.5 1105.1 341.8C1109.8 342.1 1117.7 342.0 1120.2 342.1" stroke="#2020ff" stroke-width="1.2"/><path d="M937.3 220.6C940.1 223.6 949.3 233.3 954.2 238.2C959.1 243.2 962.6 246.3 966.7 250.5C970.9 254.6 975.1 259.0 979.3 263.4C983.5 267.8 987.7 272.5 991.9 277.1C996.1 281.6 1000.3 286.3 1004.5 290.8C1008.7 295.2 1012.9 299.6 1017.1 303.6C1021.3 307.7 1025.5 311.5 1029.7 314.9C1033.8 318.2 1038.0 321.3 1042.2 323.9C1046.4 326.5 1050.6 328.8 1054.8 330.7C1059.0 332.6 1063.2 334.0 1067.4 335.4C1071.6 336.7 1075.8 337.6 1080.0 338.5C1084.2 339.4 1088.4 340.1 1092.6 340.8C1096.8 341.4 1100.5 342.0 1105.1 342.4C1109.8 342.7 1117.7 342.8 1120.2 342.9" stroke="#3a3aff" stroke-width="1.1"/><path d="M937.3 226.4C940.1 229.1 949.3 237.7 954.2 242.2C959.1 246.8 962.6 249.9 966.7 253.8C970.9 257.8 975.1 261.9 979.3 266.0C983.5 270.1 987.7 274.4 991.9 278.6C996.1 282.8 1000.3 287.0 1004.5 291.1C1008.7 295.2 1012.9 299.3 1017.1 303.0C1021.3 306.8 1025.5 310.5 1029.7 313.8C1033.8 317.0 1038.0 320.1 1042.2 322.8C1046.4 325.5 1050.6 327.9 1054.8 330.0C1059.0 332.1 1063.2 333.8 1067.4 335.3C1071.6 336.8 1075.8 338.0 1080.0 339.0C1084.2 340.1 1088.4 340.8 1092.6 341.5C1096.8 342.1 1100.5 342.6 1105.1 343.0C1109.8 343.3 1117.7 343.6 1120.2 343.7" stroke="#7a7aff" stroke-width="1.2"/><path d="M937.3 225.2C940.1 227.8 949.3 236.5 954.2 241.1C959.1 245.6 962.6 248.6 966.7 252.5C970.9 256.3 975.1 260.3 979.3 264.3C983.5 268.3 987.7 272.5 991.9 276.6C996.1 280.7 1000.3 285.0 1004.5 289.0C1008.7 293.1 1012.9 297.2 1017.1 301.1C1021.3 304.9 1025.5 308.7 1029.7 312.1C1033.8 315.6 1038.0 318.8 1042.2 321.7C1046.4 324.6 1050.6 327.2 1054.8 329.5C1059.0 331.8 1063.2 333.7 1067.4 335.3C1071.6 337.0 1075.8 338.3 1080.0 339.4C1084.2 340.5 1088.4 341.2 1092.6 341.9C1096.8 342.6 1100.5 343.0 1105.1 343.4C1109.8 343.9 1117.7 344.5 1120.2 344.7" stroke="#a8a8ff" stroke-width="1.2"/><path d="M937.3 223.9C940.1 226.5 949.3 235.3 954.2 239.9C959.1 244.4 962.6 247.3 966.7 251.1C970.9 254.9 975.1 258.7 979.3 262.7C983.5 266.6 987.7 270.7 991.9 274.8C996.1 278.8 1000.3 283.0 1004.5 287.1C1008.7 291.2 1012.9 295.4 1017.1 299.3C1021.3 303.2 1025.5 307.1 1029.7 310.7C1033.8 314.3 1038.0 317.7 1042.2 320.7C1046.4 323.8 1050.6 326.6 1054.8 329.0C1059.0 331.5 1063.2 333.6 1067.4 335.4C1071.6 337.2 1075.8 338.6 1080.0 339.8C1084.2 341.0 1088.4 341.9 1092.6 342.6C1096.8 343.4 1100.5 343.8 1105.1 344.4C1109.8 344.9 1117.7 345.7 1120.2 346.0" stroke="#ff0000" stroke-width="2.4"/></g><path d="M994.9 303.2L1028.6 275.5M1020.4 276.2L1029.2 275L1026.3 283.4" fill="none" stroke="#f9765f" stroke-width="1.8" stroke-linecap="round" stroke-linejoin="round"/><rect x="929.5" y="200.0" width="188.8" height="151.3" fill="none" stroke="#111" stroke-width="1.4"/><line x1="926.3" x2="929.5" y1="223.0" y2="223.0" stroke="#111" stroke-width="1.1"/><text x="924.2" y="226.6" font-size="9.4" text-anchor="end">10<tspan font-size="6.6" dy="-3.6">3</tspan></text><line x1="926.3" x2="929.5" y1="281.1" y2="281.1" stroke="#111" stroke-width="1.1"/><text x="924.2" y="284.7" font-size="9.4" text-anchor="end">10<tspan font-size="6.6" dy="-3.6">2</tspan></text><line x1="926.3" x2="929.5" y1="339.2" y2="339.2" stroke="#111" stroke-width="1.1"/><text x="924.2" y="342.8" font-size="9.4" text-anchor="end">10<tspan font-size="6.6" dy="-3.6">1</tspan></text><line x1="927.8" x2="929.5" y1="205.5" y2="205.5" stroke="#111" stroke-width="0.8"/><line x1="927.8" x2="929.5" y1="263.6" y2="263.6" stroke="#111" stroke-width="0.8"/><line x1="927.8" x2="929.5" y1="253.4" y2="253.4" stroke="#111" stroke-width="0.8"/><line x1="927.8" x2="929.5" y1="246.1" y2="246.1" stroke="#111" stroke-width="0.8"/><line x1="927.8" x2="929.5" y1="240.5" y2="240.5" stroke="#111" stroke-width="0.8"/><line x1="927.8" x2="929.5" y1="235.9" y2="235.9" stroke="#111" stroke-width="0.8"/><line x1="927.8" x2="929.5" y1="232.0" y2="232.0" stroke="#111" stroke-width="0.8"/><line x1="927.8" x2="929.5" y1="228.6" y2="228.6" stroke="#111" stroke-width="0.8"/><line x1="927.8" x2="929.5" y1="225.7" y2="225.7" stroke="#111" stroke-width="0.8"/><line x1="927.8" x2="929.5" y1="321.7" y2="321.7" stroke="#111" stroke-width="0.8"/><line x1="927.8" x2="929.5" y1="311.5" y2="311.5" stroke="#111" stroke-width="0.8"/><line x1="927.8" x2="929.5" y1="304.2" y2="304.2" stroke="#111" stroke-width="0.8"/><line x1="927.8" x2="929.5" y1="298.6" y2="298.6" stroke="#111" stroke-width="0.8"/><line x1="927.8" x2="929.5" y1="294.0" y2="294.0" stroke="#111" stroke-width="0.8"/><line x1="927.8" x2="929.5" y1="290.1" y2="290.1" stroke="#111" stroke-width="0.8"/><line x1="927.8" x2="929.5" y1="286.7" y2="286.7" stroke="#111" stroke-width="0.8"/><line x1="927.8" x2="929.5" y1="283.8" y2="283.8" stroke="#111" stroke-width="0.8"/><line x1="927.8" x2="929.5" y1="348.2" y2="348.2" stroke="#111" stroke-width="0.8"/><line x1="927.8" x2="929.5" y1="344.8" y2="344.8" stroke="#111" stroke-width="0.8"/><line x1="927.8" x2="929.5" y1="341.9" y2="341.9" stroke="#111" stroke-width="0.8"/><line x1="929.5" x2="929.5" y1="351.3" y2="354.5" stroke="#111" stroke-width="1.1"/><text x="929.5" y="363.9" font-size="9.7" text-anchor="middle">0.1</text><line x1="996.8" x2="996.8" y1="351.3" y2="354.5" stroke="#111" stroke-width="1.1"/><text x="996.8" y="363.9" font-size="9.7" text-anchor="middle">0.2</text><line x1="1036.1" x2="1036.1" y1="351.3" y2="354.5" stroke="#111" stroke-width="1.1"/><text x="1036.1" y="363.9" font-size="9.7" text-anchor="middle">0.3</text><line x1="1064.0" x2="1064.0" y1="351.3" y2="354.5" stroke="#111" stroke-width="1.1"/><text x="1064.0" y="363.9" font-size="9.7" text-anchor="middle">0.4</text><line x1="1085.7" x2="1085.7" y1="351.3" y2="354.5" stroke="#111" stroke-width="1.1"/><text x="1085.7" y="363.9" font-size="9.7" text-anchor="middle">0.5</text><line x1="1103.3" x2="1103.3" y1="351.3" y2="354.5" stroke="#111" stroke-width="1.1"/><text x="1103.3" y="363.9" font-size="9.7" text-anchor="middle">0.6</text><line x1="1118.3" x2="1118.3" y1="351.3" y2="354.5" stroke="#111" stroke-width="1.1"/><text x="1118.3" y="363.9" font-size="9.7" text-anchor="middle">0.7</text><line x1="938.7" x2="938.7" y1="351.3" y2="352.90000000000003" stroke="#111" stroke-width="0.6"/><line x1="947.2" x2="947.2" y1="351.3" y2="352.90000000000003" stroke="#111" stroke-width="0.6"/><line x1="955.0" x2="955.0" y1="351.3" y2="352.90000000000003" stroke="#111" stroke-width="0.6"/><line x1="962.1" x2="962.1" y1="351.3" y2="352.90000000000003" stroke="#111" stroke-width="0.6"/><line x1="968.8" x2="968.8" y1="351.3" y2="352.90000000000003" stroke="#111" stroke-width="0.6"/><line x1="975.1" x2="975.1" y1="351.3" y2="352.90000000000003" stroke="#111" stroke-width="0.6"/><line x1="981.0" x2="981.0" y1="351.3" y2="352.90000000000003" stroke="#111" stroke-width="0.6"/><line x1="986.5" x2="986.5" y1="351.3" y2="352.90000000000003" stroke="#111" stroke-width="0.6"/><line x1="991.8" x2="991.8" y1="351.3" y2="352.90000000000003" stroke="#111" stroke-width="0.6"/><line x1="1001.5" x2="1001.5" y1="351.3" y2="352.90000000000003" stroke="#111" stroke-width="0.6"/><line x1="1006.0" x2="1006.0" y1="351.3" y2="352.90000000000003" stroke="#111" stroke-width="0.6"/><line x1="1010.3" x2="1010.3" y1="351.3" y2="352.90000000000003" stroke="#111" stroke-width="0.6"/><line x1="1014.4" x2="1014.4" y1="351.3" y2="352.90000000000003" stroke="#111" stroke-width="0.6"/><line x1="1018.4" x2="1018.4" y1="351.3" y2="352.90000000000003" stroke="#111" stroke-width="0.6"/><line x1="1022.2" x2="1022.2" y1="351.3" y2="352.90000000000003" stroke="#111" stroke-width="0.6"/><line x1="1025.9" x2="1025.9" y1="351.3" y2="352.90000000000003" stroke="#111" stroke-width="0.6"/><line x1="1029.4" x2="1029.4" y1="351.3" y2="352.90000000000003" stroke="#111" stroke-width="0.6"/><line x1="1032.8" x2="1032.8" y1="351.3" y2="352.90000000000003" stroke="#111" stroke-width="0.6"/><line x1="1039.3" x2="1039.3" y1="351.3" y2="352.90000000000003" stroke="#111" stroke-width="0.6"/><line x1="1042.4" x2="1042.4" y1="351.3" y2="352.90000000000003" stroke="#111" stroke-width="0.6"/><line x1="1045.3" x2="1045.3" y1="351.3" y2="352.90000000000003" stroke="#111" stroke-width="0.6"/><line x1="1048.2" x2="1048.2" y1="351.3" y2="352.90000000000003" stroke="#111" stroke-width="0.6"/><line x1="1051.0" x2="1051.0" y1="351.3" y2="352.90000000000003" stroke="#111" stroke-width="0.6"/><line x1="1053.8" x2="1053.8" y1="351.3" y2="352.90000000000003" stroke="#111" stroke-width="0.6"/><line x1="1056.4" x2="1056.4" y1="351.3" y2="352.90000000000003" stroke="#111" stroke-width="0.6"/><line x1="1059.0" x2="1059.0" y1="351.3" y2="352.90000000000003" stroke="#111" stroke-width="0.6"/><line x1="1061.5" x2="1061.5" y1="351.3" y2="352.90000000000003" stroke="#111" stroke-width="0.6"/><line x1="1068.7" x2="1068.7" y1="351.3" y2="352.90000000000003" stroke="#111" stroke-width="0.6"/><line x1="1073.3" x2="1073.3" y1="351.3" y2="352.90000000000003" stroke="#111" stroke-width="0.6"/><line x1="1077.6" x2="1077.6" y1="351.3" y2="352.90000000000003" stroke="#111" stroke-width="0.6"/><line x1="1081.7" x2="1081.7" y1="351.3" y2="352.90000000000003" stroke="#111" stroke-width="0.6"/><line x1="1089.5" x2="1089.5" y1="351.3" y2="352.90000000000003" stroke="#111" stroke-width="0.6"/><line x1="1093.1" x2="1093.1" y1="351.3" y2="352.90000000000003" stroke="#111" stroke-width="0.6"/><line x1="1096.6" x2="1096.6" y1="351.3" y2="352.90000000000003" stroke="#111" stroke-width="0.6"/><line x1="1100.1" x2="1100.1" y1="351.3" y2="352.90000000000003" stroke="#111" stroke-width="0.6"/><line x1="1106.5" x2="1106.5" y1="351.3" y2="352.90000000000003" stroke="#111" stroke-width="0.6"/><line x1="1109.6" x2="1109.6" y1="351.3" y2="352.90000000000003" stroke="#111" stroke-width="0.6"/><line x1="1112.6" x2="1112.6" y1="351.3" y2="352.90000000000003" stroke="#111" stroke-width="0.6"/><line x1="1115.5" x2="1115.5" y1="351.3" y2="352.90000000000003" stroke="#111" stroke-width="0.6"/><text x="1116.7" y="213.2" font-size="12.6" text-anchor="end">LA</text><text transform="translate(905.6,276.1) rotate(-90)" font-size="12.9" text-anchor="middle">Intensity (a.u.)</text><text x="1024" y="383.8" font-size="12.8" text-anchor="middle"><tspan font-style="italic">q</tspan><tspan font-style="italic" font-size="9" dy="3">Z</tspan><tspan dy="-3"> (nm</tspan><tspan font-size="8.5" dy="-5">-1</tspan><tspan dy="5">)</tspan></text><text transform="translate(639.5,221.8) scale(0.868,1)" font-size="23.1" font-weight="bold">D</text>
<rect x="699.5" y="404.6" width="425.8" height="159.5" fill="none" stroke="#000" stroke-width="1.1"/><line x1="696.5" x2="699.5" y1="550.7" y2="550.7" stroke="#000" stroke-width="1"/><text x="695.2" y="553.9" font-size="9.2" text-anchor="end" fill="#000" >0.0</text><line x1="696.5" x2="699.5" y1="524.2" y2="524.2" stroke="#000" stroke-width="1"/><text x="695.2" y="527.4" font-size="9.2" text-anchor="end" fill="#000" >0.2</text><line x1="696.5" x2="699.5" y1="497.7" y2="497.7" stroke="#000" stroke-width="1"/><text x="695.2" y="500.9" font-size="9.2" text-anchor="end" fill="#000" >0.4</text><line x1="696.5" x2="699.5" y1="471.2" y2="471.2" stroke="#000" stroke-width="1"/><text x="695.2" y="474.4" font-size="9.2" text-anchor="end" fill="#000" >0.6</text><line x1="696.5" x2="699.5" y1="444.7" y2="444.7" stroke="#000" stroke-width="1"/><text x="695.2" y="447.9" font-size="9.2" text-anchor="end" fill="#000" >0.8</text><line x1="696.5" x2="699.5" y1="418.2" y2="418.2" stroke="#000" stroke-width="1"/><text x="695.2" y="421.4" font-size="9.2" text-anchor="end" fill="#000" >1.0</text><line x1="697.9" x2="699.5" y1="537.5" y2="537.5" stroke="#000" stroke-width="0.9"/><line x1="697.9" x2="699.5" y1="511.0" y2="511.0" stroke="#000" stroke-width="0.9"/><line x1="697.9" x2="699.5" y1="484.5" y2="484.5" stroke="#000" stroke-width="0.9"/><line x1="697.9" x2="699.5" y1="458.0" y2="458.0" stroke="#000" stroke-width="0.9"/><line x1="697.9" x2="699.5" y1="431.5" y2="431.5" stroke="#000" stroke-width="0.9"/><line x1="699.5" x2="699.5" y1="564.1" y2="567.1" stroke="#000" stroke-width="1"/><text x="699.5" y="574.7" font-size="9.2" text-anchor="middle" fill="#000" >0</text><line x1="734.4" x2="734.4" y1="564.1" y2="567.1" stroke="#000" stroke-width="1"/><text x="734.4" y="574.7" font-size="9.2" text-anchor="middle" fill="#000" >5</text><line x1="769.3" x2="769.3" y1="564.1" y2="567.1" stroke="#000" stroke-width="1"/><text x="769.3" y="574.7" font-size="9.2" text-anchor="middle" fill="#000" >10</text><line x1="804.2" x2="804.2" y1="564.1" y2="567.1" stroke="#000" stroke-width="1"/><text x="804.2" y="574.7" font-size="9.2" text-anchor="middle" fill="#000" >15</text><line x1="839.1" x2="839.1" y1="564.1" y2="567.1" stroke="#000" stroke-width="1"/><text x="839.1" y="574.7" font-size="9.2" text-anchor="middle" fill="#000" >20</text><line x1="874.0" x2="874.0" y1="564.1" y2="567.1" stroke="#000" stroke-width="1"/><text x="874.0" y="574.7" font-size="9.2" text-anchor="middle" fill="#000" >25</text><line x1="908.9" x2="908.9" y1="564.1" y2="567.1" stroke="#000" stroke-width="1"/><text x="908.9" y="574.7" font-size="9.2" text-anchor="middle" fill="#000" >30</text><line x1="943.8" x2="943.8" y1="564.1" y2="567.1" stroke="#000" stroke-width="1"/><text x="943.8" y="574.7" font-size="9.2" text-anchor="middle" fill="#000" >35</text><line x1="978.7" x2="978.7" y1="564.1" y2="567.1" stroke="#000" stroke-width="1"/><text x="978.7" y="574.7" font-size="9.2" text-anchor="middle" fill="#000" >40</text><line x1="1013.6" x2="1013.6" y1="564.1" y2="567.1" stroke="#000" stroke-width="1"/><text x="1013.6" y="574.7" font-size="9.2" text-anchor="middle" fill="#000" >45</text><line x1="1048.5" x2="1048.5" y1="564.1" y2="567.1" stroke="#000" stroke-width="1"/><text x="1048.5" y="574.7" font-size="9.2" text-anchor="middle" fill="#000" >50</text><line x1="1083.4" x2="1083.4" y1="564.1" y2="567.1" stroke="#000" stroke-width="1"/><text x="1083.4" y="574.7" font-size="9.2" text-anchor="middle" fill="#000" >55</text><line x1="1118.3" x2="1118.3" y1="564.1" y2="567.1" stroke="#000" stroke-width="1"/><text x="1118.3" y="574.7" font-size="9.2" text-anchor="middle" fill="#000" >60</text><line x1="717.0" x2="717.0" y1="564.1" y2="565.7" stroke="#000" stroke-width="0.9"/><line x1="751.9" x2="751.9" y1="564.1" y2="565.7" stroke="#000" stroke-width="0.9"/><line x1="786.8" x2="786.8" y1="564.1" y2="565.7" stroke="#000" stroke-width="0.9"/><line x1="821.6" x2="821.6" y1="564.1" y2="565.7" stroke="#000" stroke-width="0.9"/><line x1="856.5" x2="856.5" y1="564.1" y2="565.7" stroke="#000" stroke-width="0.9"/><line x1="891.5" x2="891.5" y1="564.1" y2="565.7" stroke="#000" stroke-width="0.9"/><line x1="926.4" x2="926.4" y1="564.1" y2="565.7" stroke="#000" stroke-width="0.9"/><line x1="961.2" x2="961.2" y1="564.1" y2="565.7" stroke="#000" stroke-width="0.9"/><line x1="996.2" x2="996.2" y1="564.1" y2="565.7" stroke="#000" stroke-width="0.9"/><line x1="1031.0" x2="1031.0" y1="564.1" y2="565.7" stroke="#000" stroke-width="0.9"/><line x1="1066.0" x2="1066.0" y1="564.1" y2="565.7" stroke="#000" stroke-width="0.9"/><line x1="1100.8" x2="1100.8" y1="564.1" y2="565.7" stroke="#000" stroke-width="0.9"/><path d="M713.5 550.7L727.4 547.4L741.4 538.8L755.3 525.5L769.3 501.7L783.3 480.5L797.2 463.3L811.2 458.0L825.1 454.0L839.1 454.6L853.1 444.7L867.0 443.4L881.0 440.7L894.9 444.7L908.9 434.8L922.9 434.1L936.8 428.8L950.8 424.8L964.7 422.8L978.7 426.8L992.7 431.5L1006.6 418.2L1020.6 422.8L1034.5 418.2L1048.5 420.2L1062.5 424.8L1076.4 421.5L1090.4 420.2L1104.3 418.9L1118.3 424.8" fill="none" stroke="#8fd7c1" stroke-width="1.4" stroke-linejoin="round"/><g fill="url(#mkm)"><circle cx="713.5" cy="550.7" r="2.65"/><circle cx="727.4" cy="547.4" r="2.65"/><circle cx="741.4" cy="538.8" r="2.65"/><circle cx="755.3" cy="525.5" r="2.65"/><circle cx="769.3" cy="501.7" r="2.65"/><circle cx="783.3" cy="480.5" r="2.65"/><circle cx="797.2" cy="463.3" r="2.65"/><circle cx="811.2" cy="458.0" r="2.65"/><circle cx="825.1" cy="454.0" r="2.65"/><circle cx="839.1" cy="454.6" r="2.65"/><circle cx="853.1" cy="444.7" r="2.65"/><circle cx="867.0" cy="443.4" r="2.65"/><circle cx="881.0" cy="440.7" r="2.65"/><circle cx="894.9" cy="444.7" r="2.65"/><circle cx="908.9" cy="434.8" r="2.65"/><circle cx="922.9" cy="434.1" r="2.65"/><circle cx="936.8" cy="428.8" r="2.65"/><circle cx="950.8" cy="424.8" r="2.65"/><circle cx="964.7" cy="422.8" r="2.65"/><circle cx="978.7" cy="426.8" r="2.65"/><circle cx="992.7" cy="431.5" r="2.65"/><circle cx="1006.6" cy="418.2" r="2.65"/><circle cx="1020.6" cy="422.8" r="2.65"/><circle cx="1034.5" cy="418.2" r="2.65"/><circle cx="1048.5" cy="420.2" r="2.65"/><circle cx="1062.5" cy="424.8" r="2.65"/><circle cx="1076.4" cy="421.5" r="2.65"/><circle cx="1090.4" cy="420.2" r="2.65"/><circle cx="1104.3" cy="418.9" r="2.65"/><circle cx="1118.3" cy="424.8" r="2.65"/></g><path d="M713.5 550.7L727.4 503.7L741.4 469.2L755.3 452.7L769.3 445.4L783.3 444.7L797.2 442.1L811.2 441.4L825.1 439.4L839.1 438.1L853.1 434.1L867.0 435.4L881.0 436.1L894.9 436.8L908.9 430.8L922.9 432.8L936.8 432.8L950.8 431.5L964.7 430.1L978.7 430.1L992.7 428.8L1006.6 428.8L1020.6 424.2L1034.5 430.1L1048.5 428.1L1062.5 422.8L1076.4 422.8L1090.4 424.8L1104.3 422.8L1118.3 418.2" fill="none" stroke="#f9765f" stroke-width="1.4" stroke-linejoin="round"/><g fill="url(#mks)"><circle cx="713.5" cy="550.7" r="2.65"/><circle cx="727.4" cy="503.7" r="2.65"/><circle cx="741.4" cy="469.2" r="2.65"/><circle cx="755.3" cy="452.7" r="2.65"/><circle cx="769.3" cy="445.4" r="2.65"/><circle cx="783.3" cy="444.7" r="2.65"/><circle cx="797.2" cy="442.1" r="2.65"/><circle cx="811.2" cy="441.4" r="2.65"/><circle cx="825.1" cy="439.4" r="2.65"/><circle cx="839.1" cy="438.1" r="2.65"/><circle cx="853.1" cy="434.1" r="2.65"/><circle cx="867.0" cy="435.4" r="2.65"/><circle cx="881.0" cy="436.1" r="2.65"/><circle cx="894.9" cy="436.8" r="2.65"/><circle cx="908.9" cy="430.8" r="2.65"/><circle cx="922.9" cy="432.8" r="2.65"/><circle cx="936.8" cy="432.8" r="2.65"/><circle cx="950.8" cy="431.5" r="2.65"/><circle cx="964.7" cy="430.1" r="2.65"/><circle cx="978.7" cy="430.1" r="2.65"/><circle cx="992.7" cy="428.8" r="2.65"/><circle cx="1006.6" cy="428.8" r="2.65"/><circle cx="1020.6" cy="424.2" r="2.65"/><circle cx="1034.5" cy="430.1" r="2.65"/><circle cx="1048.5" cy="428.1" r="2.65"/><circle cx="1062.5" cy="422.8" r="2.65"/><circle cx="1076.4" cy="422.8" r="2.65"/><circle cx="1090.4" cy="424.8" r="2.65"/><circle cx="1104.3" cy="422.8" r="2.65"/><circle cx="1118.3" cy="418.2" r="2.65"/></g><rect x="707.9" y="439.7" width="99.4" height="117.7" fill="none" stroke="#0000ff" stroke-width="2.1" stroke-dasharray="5.6 2.15"/><line x1="710" x2="725.8" y1="414.8" y2="414.8" stroke="#8fd7c1" stroke-width="1.4"/><path d="M717.8 414.8" fill="none" stroke="#8fd7c1" stroke-width="1.4" stroke-linejoin="round"/><g fill="url(#mkm)"><circle cx="717.8" cy="414.8" r="2.65"/></g><text x="729.3" y="417.2" font-size="12.4" text-anchor="start" fill="#000" >TA</text><line x1="710" x2="725.8" y1="430" y2="430" stroke="#f9765f" stroke-width="1.4"/><path d="M717.8 430.0" fill="none" stroke="#f9765f" stroke-width="1.4" stroke-linejoin="round"/><g fill="url(#mks)"><circle cx="717.8" cy="430.0" r="2.65"/></g><text x="729.3" y="432.9" font-size="12.4" text-anchor="start" fill="#000" >LA</text><text x="912" y="592.8" font-size="12.3" text-anchor="middle" fill="#000" >Time (s)</text><text transform="translate(676.5,481.9) rotate(-90)" font-size="12.6" text-anchor="middle">Normalized 2<tspan font-style="italic">R</tspan><tspan font-style="italic" dy="2.5">g</tspan></text><text transform="translate(639.5,406.2) scale(0.821,1)" font-size="22.8" font-weight="bold">E</text>
<use href="#u2h" x="61.2" y="316.4" filter="url(#ds)"/><use href="#pen" x="190.3" y="339.2" filter="url(#ds)"/><use href="#u2h" x="243.5" y="316.4" filter="url(#ds)"/><use href="#u2h" x="58.3" y="436.4" filter="url(#ds)"/><use href="#pen" x="187.6" y="457.3" filter="url(#ds)"/><use href="#u2h" x="240.7" y="434.3" filter="url(#ds)"/><use href="#s6hs" x="389.3" y="308.2" filter="url(#ds)"/><use href="#pens" x="410.2" y="329.6" filter="url(#ds)"/><use href="#s6hs" x="454.4" y="309.8" filter="url(#ds)"/><use href="#pens" x="475.3" y="331.2" filter="url(#ds)"/><use href="#s6hs" x="389.3" y="359.8" filter="url(#ds)"/><use href="#pens" x="410.2" y="380.6" filter="url(#ds)"/><use href="#s6hs" x="454.4" y="361.4" filter="url(#ds)"/><use href="#pens" x="475.3" y="382.2" filter="url(#ds)"/><use href="#s6h" x="399.2" y="441.8" filter="url(#ds)"/><use href="#pen" transform="translate(434.3,473.3) scale(0.985)" filter="url(#ds)"/><use href="#s3c" x="590.4" y="340.7" filter="url(#ds2)"/><use href="#s3c" transform="translate(570.4,451.6) scale(0.91)" filter="url(#ds2)"/><use href="#s3c" transform="translate(618.5,464.3) scale(0.91)" filter="url(#ds2)"/><use href="#s3c" transform="translate(584.1,498.8) scale(0.91)" filter="url(#ds2)"/><path d="M125.2 345.5H168.39999999999998M160.0 337.9L169.2 345.5L160.0 353.1" fill="none" stroke="#fdb714" stroke-width="2.5" stroke-linecap="round" stroke-linejoin="round"/><path d="M319.5 347.4H363.0M354.6 339.79999999999995L363.8 347.4L354.6 355.0" fill="none" stroke="#fdb714" stroke-width="2.5" stroke-linecap="round" stroke-linejoin="round"/><path d="M506.7 344.4H550.2M541.8 336.79999999999995L551 344.4L541.8 352.0" fill="none" stroke="#fdb714" stroke-width="2.5" stroke-linecap="round" stroke-linejoin="round"/><path d="M122.5 476H166.0M157.60000000000002 468.4L166.8 476L157.60000000000002 483.6" fill="none" stroke="#fdb714" stroke-width="2.5" stroke-linecap="round" stroke-linejoin="round"/><path d="M316.9 475H360.0M351.6 467.4L360.8 475L351.6 482.6" fill="none" stroke="#fdb714" stroke-width="2.5" stroke-linecap="round" stroke-linejoin="round"/><path d="M501.9 487.8H545.7M537.3 480.2L546.5 487.8L537.3 495.40000000000003" fill="none" stroke="#fdb714" stroke-width="2.5" stroke-linecap="round" stroke-linejoin="round"/><path d="M7 344.6L16 344.6L20.9 329.7L26.8 360.5L33.8 336.7L37.8 351.6L42.7 344.6L51 344.6" fill="none" stroke="#c8202a" stroke-width="2.9" stroke-linejoin="round"/><path d="M50.5 337.4L57.9 344.6L50.5 351.8Z" fill="#c8202a"/><path d="M4.4 461.6L13.4 461.6L18.3 446.7L24.2 477.5L31.2 453.7L35.2 468.6L40.1 461.6L48.4 461.6" fill="none" stroke="#0a0aff" stroke-width="2.9" stroke-linejoin="round"/><path d="M47.9 454.4L55.3 461.6L47.9 468.8Z" fill="#0a0aff"/><text x="15.9" y="317.7" font-size="17.9" text-anchor="start" fill="#c00000" font-weight="bold">TA</text><text x="11.2" y="434.9" font-size="17.9" text-anchor="start" fill="#1212f0" font-weight="bold">LA</text><text x="61.5" y="556.6" font-size="23.4" text-anchor="start" fill="#000" >2H</text><text x="230.8" y="552.5" font-size="23.4" text-anchor="start" fill="#000" >4H</text><text x="402.8" y="556" font-size="23.4" text-anchor="start" fill="#000" >6H</text><text x="573.8" y="556" font-size="23.4" text-anchor="start" fill="#000" >3C</text><text x="358" y="426.8" font-size="23.2" text-anchor="start" fill="#000" >Accumulation</text><text x="502.8" y="333.3" font-size="18" text-anchor="start" fill="#000" >Slow</text><text x="501.7" y="472.6" font-size="17.6" text-anchor="start" fill="#000" >Fast</text><text transform="translate(21.9,280.9) scale(0.843,1)" font-size="23.2" font-weight="bold">C</text></svg></body></html>
